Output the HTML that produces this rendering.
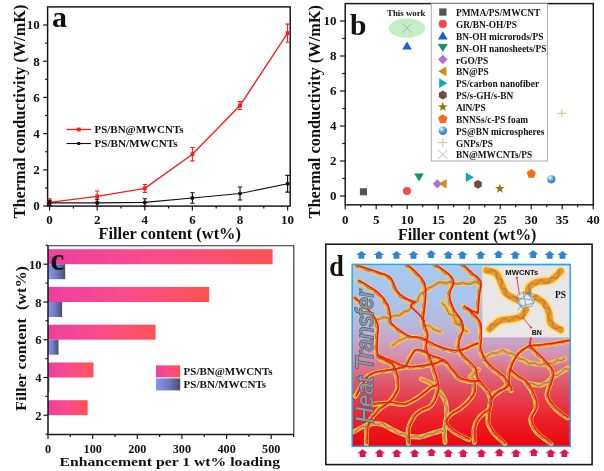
<!DOCTYPE html>
<html lang="en"><head><meta charset="utf-8"><title>Figure</title>
<style>
html,body{margin:0;padding:0;background:#fff;}
svg{display:block;}
text{font-family:'Liberation Serif', 'DejaVu Serif', serif;font-weight:bold;fill:#111;}
.sans{font-family:'Liberation Sans', 'DejaVu Sans', sans-serif;}
.ax{stroke:#1a1a1a;stroke-width:1.5;fill:none;}
.tk{stroke:#1a1a1a;stroke-width:1.2;fill:none;}
</style></head><body>
<svg width="604" height="471" viewBox="0 0 604 471">
<defs>
<linearGradient id="gp" x1="0" y1="0" x2="1" y2="0"><stop offset="0" stop-color="#ee3fa0"/><stop offset="0.5" stop-color="#fb4c8a"/><stop offset="1" stop-color="#ff5252"/></linearGradient>
<linearGradient id="gb" x1="0" y1="0" x2="1" y2="0"><stop offset="0" stop-color="#8696f0"/><stop offset="0.5" stop-color="#6f7cc4"/><stop offset="1" stop-color="#474e6a"/></linearGradient>
<linearGradient id="gd" x1="0" y1="0" x2="0" y2="1"><stop offset="0" stop-color="#a8c9f0"/><stop offset="0.2" stop-color="#aac4ec"/><stop offset="0.33" stop-color="#b6b8dc"/><stop offset="0.41" stop-color="#c6a6ca"/><stop offset="0.5" stop-color="#d590ae"/><stop offset="0.58" stop-color="#da7088"/><stop offset="0.66" stop-color="#e05468"/><stop offset="0.745" stop-color="#e63c4c"/><stop offset="0.83" stop-color="#ea2630"/><stop offset="0.91" stop-color="#ec1620"/><stop offset="1" stop-color="#ee040c"/></linearGradient>
<radialGradient id="gs" cx="0.35" cy="0.3" r="0.7"><stop offset="0" stop-color="#ffffff"/><stop offset="0.3" stop-color="#9cc8f2"/><stop offset="0.6" stop-color="#4e94dc"/><stop offset="1" stop-color="#3578c8"/></radialGradient>
</defs>
<rect width="604" height="471" fill="#fff"/>

<g id="panel-a">
<rect class="ax" x="47.6" y="6.9" width="242.6" height="199.2"/>
<line class="tk" x1="43.1" x2="47.6" y1="206.0" y2="206.0"/>
<line class="tk" x1="49.6" x2="49.6" y1="206.1" y2="210.6"/>
<line class="tk" x1="45.1" x2="47.6" y1="187.9" y2="187.9"/>
<line class="tk" x1="73.4" x2="73.4" y1="206.1" y2="208.6"/>
<line class="tk" x1="43.1" x2="47.6" y1="169.8" y2="169.8"/>
<line class="tk" x1="97.2" x2="97.2" y1="206.1" y2="210.6"/>
<line class="tk" x1="45.1" x2="47.6" y1="151.7" y2="151.7"/>
<line class="tk" x1="121.0" x2="121.0" y1="206.1" y2="208.6"/>
<line class="tk" x1="43.1" x2="47.6" y1="133.6" y2="133.6"/>
<line class="tk" x1="144.8" x2="144.8" y1="206.1" y2="210.6"/>
<line class="tk" x1="45.1" x2="47.6" y1="115.5" y2="115.5"/>
<line class="tk" x1="168.6" x2="168.6" y1="206.1" y2="208.6"/>
<line class="tk" x1="43.1" x2="47.6" y1="97.4" y2="97.4"/>
<line class="tk" x1="192.4" x2="192.4" y1="206.1" y2="210.6"/>
<line class="tk" x1="45.1" x2="47.6" y1="79.3" y2="79.3"/>
<line class="tk" x1="216.2" x2="216.2" y1="206.1" y2="208.6"/>
<line class="tk" x1="43.1" x2="47.6" y1="61.2" y2="61.2"/>
<line class="tk" x1="240.0" x2="240.0" y1="206.1" y2="210.6"/>
<line class="tk" x1="45.1" x2="47.6" y1="43.1" y2="43.1"/>
<line class="tk" x1="263.8" x2="263.8" y1="206.1" y2="208.6"/>
<line class="tk" x1="43.1" x2="47.6" y1="25.0" y2="25.0"/>
<line class="tk" x1="287.6" x2="287.6" y1="206.1" y2="210.6"/>
<text x="39.8" y="210.3" font-size="13" text-anchor="end">0</text>
<text x="49.6" y="224.4" font-size="13" text-anchor="middle">0</text>
<text x="39.8" y="174.1" font-size="13" text-anchor="end">2</text>
<text x="97.2" y="224.4" font-size="13" text-anchor="middle">2</text>
<text x="39.8" y="137.9" font-size="13" text-anchor="end">4</text>
<text x="144.8" y="224.4" font-size="13" text-anchor="middle">4</text>
<text x="39.8" y="101.7" font-size="13" text-anchor="end">6</text>
<text x="192.4" y="224.4" font-size="13" text-anchor="middle">6</text>
<text x="39.8" y="65.5" font-size="13" text-anchor="end">8</text>
<text x="240.0" y="224.4" font-size="13" text-anchor="middle">8</text>
<text x="39.8" y="29.3" font-size="13" text-anchor="end">10</text>
<text x="287.6" y="224.4" font-size="13" text-anchor="middle">10</text>
<text transform="translate(24.9,218.5) rotate(-90)" font-size="16.4" textLength="214" lengthAdjust="spacingAndGlyphs">Thermal conductivity (W/mK)</text>
<text x="98.5" y="239.3" font-size="16.4" textLength="142.4" lengthAdjust="spacingAndGlyphs">Filler content (wt%)</text>
<text x="52" y="27" font-size="30">a</text>
<polyline points="49.6,202.4 97.2,196.4 144.8,188.4 192.4,154.2 240.0,105.5 287.6,33.1" fill="none" stroke="#ff1a1a" stroke-width="1.35"/>
<path d="M49.6 198.8V206.0M47.4 198.8h4.4M47.4 206.0h4.4" stroke="#ff1a1a" stroke-width="1.1" fill="none"/>
<rect x="47.7" y="200.5" width="3.8" height="3.8" fill="#ff1a1a"/>
<path d="M97.2 191.0V201.8M95.0 191.0h4.4M95.0 201.8h4.4" stroke="#ff1a1a" stroke-width="1.1" fill="none"/>
<rect x="95.3" y="194.5" width="3.8" height="3.8" fill="#ff1a1a"/>
<path d="M144.8 184.5V192.4M142.6 184.5h4.4M142.6 192.4h4.4" stroke="#ff1a1a" stroke-width="1.1" fill="none"/>
<rect x="142.9" y="186.5" width="3.8" height="3.8" fill="#ff1a1a"/>
<path d="M192.4 147.5V160.9M190.2 147.5h4.4M190.2 160.9h4.4" stroke="#ff1a1a" stroke-width="1.1" fill="none"/>
<rect x="190.5" y="152.3" width="3.8" height="3.8" fill="#ff1a1a"/>
<path d="M240.0 101.6V109.5M237.8 101.6h4.4M237.8 109.5h4.4" stroke="#ff1a1a" stroke-width="1.1" fill="none"/>
<rect x="238.1" y="103.6" width="3.8" height="3.8" fill="#ff1a1a"/>
<path d="M287.6 24.1V42.2M285.4 24.1h4.4M285.4 42.2h4.4" stroke="#ff1a1a" stroke-width="1.1" fill="none"/>
<rect x="285.7" y="31.2" width="3.8" height="3.8" fill="#ff1a1a"/>
<polyline points="49.6,202.9 97.2,202.9 144.8,202.4 192.4,198.0 240.0,193.5 287.6,183.7" fill="none" stroke="#111" stroke-width="1.1"/>
<path d="M49.6 200.2V205.6M47.4 200.2h4.4M47.4 205.6h4.4" stroke="#111" stroke-width="1.1" fill="none"/>
<circle cx="49.6" cy="202.9" r="2" fill="#111"/>
<path d="M97.2 199.3V206.5M95.0 199.3h4.4M95.0 206.5h4.4" stroke="#111" stroke-width="1.1" fill="none"/>
<circle cx="97.2" cy="202.9" r="2" fill="#111"/>
<path d="M144.8 198.8V206.0M142.6 198.8h4.4M142.6 206.0h4.4" stroke="#111" stroke-width="1.1" fill="none"/>
<circle cx="144.8" cy="202.4" r="2" fill="#111"/>
<path d="M192.4 192.8V203.3M190.2 192.8h4.4M190.2 203.3h4.4" stroke="#111" stroke-width="1.1" fill="none"/>
<circle cx="192.4" cy="198.0" r="2" fill="#111"/>
<path d="M240.0 187.0V200.0M237.8 187.0h4.4M237.8 200.0h4.4" stroke="#111" stroke-width="1.1" fill="none"/>
<circle cx="240.0" cy="193.5" r="2" fill="#111"/>
<path d="M287.6 175.4V192.1M285.4 175.4h4.4M285.4 192.1h4.4" stroke="#111" stroke-width="1.1" fill="none"/>
<circle cx="287.6" cy="183.7" r="2" fill="#111"/>
<line x1="66.5" x2="91" y1="129.5" y2="129.5" stroke="#ff1a1a" stroke-width="1.35"/><rect x="76.9" y="127.6" width="3.8" height="3.8" fill="#ff1a1a"/>
<line x1="66.5" x2="91" y1="143.5" y2="143.5" stroke="#111" stroke-width="1.1"/><circle cx="78.8" cy="143.5" r="1.8" fill="#111"/>
<text x="94.5" y="133.4" font-size="11.3" textLength="89" lengthAdjust="spacingAndGlyphs">PS/BN@MWCNTs</text>
<text x="94.5" y="146.9" font-size="11.3" textLength="83" lengthAdjust="spacingAndGlyphs">PS/BN/MWCNTs</text>
</g>
<g id="panel-b">
<rect class="ax" x="345.2" y="3.6" width="248.09999999999997" height="201.20000000000002"/>
<line class="tk" x1="339.9" x2="345.2" y1="196.0" y2="196.0"/>
<line class="tk" x1="342.2" x2="345.2" y1="178.5" y2="178.5"/>
<line class="tk" x1="339.9" x2="345.2" y1="161.0" y2="161.0"/>
<line class="tk" x1="342.2" x2="345.2" y1="143.5" y2="143.5"/>
<line class="tk" x1="339.9" x2="345.2" y1="126.0" y2="126.0"/>
<line class="tk" x1="342.2" x2="345.2" y1="108.5" y2="108.5"/>
<line class="tk" x1="339.9" x2="345.2" y1="91.0" y2="91.0"/>
<line class="tk" x1="342.2" x2="345.2" y1="73.5" y2="73.5"/>
<line class="tk" x1="339.9" x2="345.2" y1="56.0" y2="56.0"/>
<line class="tk" x1="342.2" x2="345.2" y1="38.5" y2="38.5"/>
<line class="tk" x1="339.9" x2="345.2" y1="21.0" y2="21.0"/>
<line class="tk" x1="345.2" x2="345.2" y1="204.8" y2="209.3"/>
<line class="tk" x1="376.2" x2="376.2" y1="204.8" y2="209.3"/>
<line class="tk" x1="407.2" x2="407.2" y1="204.8" y2="209.3"/>
<line class="tk" x1="438.2" x2="438.2" y1="204.8" y2="209.3"/>
<line class="tk" x1="469.2" x2="469.2" y1="204.8" y2="209.3"/>
<line class="tk" x1="500.2" x2="500.2" y1="204.8" y2="209.3"/>
<line class="tk" x1="531.2" x2="531.2" y1="204.8" y2="209.3"/>
<line class="tk" x1="562.2" x2="562.2" y1="204.8" y2="209.3"/>
<line class="tk" x1="593.2" x2="593.2" y1="204.8" y2="209.3"/>
<line class="tk" x1="360.7" x2="360.7" y1="204.8" y2="207.3"/>
<line class="tk" x1="391.7" x2="391.7" y1="204.8" y2="207.3"/>
<line class="tk" x1="422.7" x2="422.7" y1="204.8" y2="207.3"/>
<line class="tk" x1="453.7" x2="453.7" y1="204.8" y2="207.3"/>
<line class="tk" x1="484.7" x2="484.7" y1="204.8" y2="207.3"/>
<line class="tk" x1="515.7" x2="515.7" y1="204.8" y2="207.3"/>
<line class="tk" x1="546.7" x2="546.7" y1="204.8" y2="207.3"/>
<line class="tk" x1="577.7" x2="577.7" y1="204.8" y2="207.3"/>
<text x="336.6" y="200.2" font-size="13" text-anchor="end">0</text>
<text x="336.6" y="165.2" font-size="13" text-anchor="end">2</text>
<text x="336.6" y="130.2" font-size="13" text-anchor="end">4</text>
<text x="336.6" y="95.2" font-size="13" text-anchor="end">6</text>
<text x="336.6" y="60.2" font-size="13" text-anchor="end">8</text>
<text x="336.6" y="25.2" font-size="13" text-anchor="end">10</text>
<text x="345.2" y="224.2" font-size="13" text-anchor="middle">0</text>
<text x="376.2" y="224.2" font-size="13" text-anchor="middle">5</text>
<text x="407.2" y="224.2" font-size="13" text-anchor="middle">10</text>
<text x="438.2" y="224.2" font-size="13" text-anchor="middle">15</text>
<text x="469.2" y="224.2" font-size="13" text-anchor="middle">20</text>
<text x="500.2" y="224.2" font-size="13" text-anchor="middle">25</text>
<text x="531.2" y="224.2" font-size="13" text-anchor="middle">30</text>
<text x="562.2" y="224.2" font-size="13" text-anchor="middle">35</text>
<text x="593.2" y="224.2" font-size="13" text-anchor="middle">40</text>
<text transform="translate(319.6,218.5) rotate(-90)" font-size="16.4" textLength="213.5" lengthAdjust="spacingAndGlyphs">Thermal conductivity (W/mK)</text>
<text x="398" y="240.3" font-size="16" textLength="138.4" lengthAdjust="spacingAndGlyphs">Filler content (wt%)</text>
<text x="350" y="35.4" font-size="29.5">b</text>
<ellipse cx="407" cy="28.2" rx="18.3" ry="9.6" fill="#c4eec6"/>
<text x="406.3" y="15.8" font-size="8.8" text-anchor="middle">This work</text>
<rect x="359.9" y="188.2" width="7.1" height="7.1" fill="#555"/>
<circle cx="407.0" cy="191.0" r="4.0" fill="#f8484e"/>
<path d="M407.0 41.6L411.8 49.6H402.2Z" fill="#1560e0"/>
<path d="M419.0 181.4L423.8 173.4H414.2Z" fill="#0a9a62"/>
<path d="M437.3 179.2L441.9 183.8L437.3 188.4L432.7 183.8Z" fill="#b46ee0"/>
<path d="M438.6 183.8L446.6 179.0V188.6Z" fill="#d88a10"/>
<path d="M473.9 177.3L465.9 172.5V182.1Z" fill="#12a4cc"/>
<polygon points="481.8,186.5 478.0,188.7 474.2,186.5 474.2,182.1 478.0,179.9 481.8,182.1" fill="#7a4848"/>
<polygon points="499.8,183.7 501.0,187.1 504.6,187.1 501.7,189.3 502.8,192.8 499.8,190.7 496.8,192.8 497.9,189.3 495.0,187.1 498.6,187.1" fill="#8a7a0a"/>
<polygon points="531.3,169.0 535.9,172.3 534.1,177.7 528.5,177.7 526.7,172.3" fill="#ff6a10"/>
<circle cx="551.3" cy="179.3" r="4.1" fill="url(#gs)"/>
<path d="M557.5 113.3h8.6M561.8 109.0v8.6" stroke="#9ccc50" stroke-width="0.8" fill="none"/>
<path d="M402.5 23.7l9.0 9.0M402.5 32.7l9.0 -9.0" stroke="#a8a8a8" stroke-width="0.8" fill="none"/>
<rect x="431.2" y="3.6" width="116.3" height="157.4" fill="#fff" stroke="#8a8a8a" stroke-width="0.7"/>
<rect x="439.2" y="8.4" width="7.3" height="7.3" fill="#555"/>
<text x="456" y="16.0" font-size="9.4">PMMA/PS/MWCNT</text>
<circle cx="442.8" cy="23.9" r="4.1" fill="#f8484e"/>
<text x="456" y="27.9" font-size="9.4">GR/BN-OH/PS</text>
<path d="M442.8 31.2L447.7 39.4H437.9Z" fill="#1560e0"/>
<text x="456" y="39.7" font-size="9.4">BN-OH microrods/PS</text>
<path d="M442.8 52.1L447.7 44.0H437.9Z" fill="#0a9a62"/>
<text x="456" y="51.6" font-size="9.4">BN-OH nanosheets/PS</text>
<path d="M442.8 54.8L447.5 59.5L442.8 64.2L438.1 59.5Z" fill="#b46ee0"/>
<text x="456" y="63.5" font-size="9.4">rGO/PS</text>
<path d="M438.3 71.3L446.4 66.4V76.3Z" fill="#d88a10"/>
<text x="456" y="75.3" font-size="9.4">BN@PS</text>
<path d="M447.3 83.2L439.2 78.3V88.1Z" fill="#12a4cc"/>
<text x="456" y="87.2" font-size="9.4">PS/carbon nanofiber</text>
<polygon points="446.7,97.3 442.8,99.6 438.9,97.3 438.9,92.8 442.8,90.6 446.7,92.8" fill="#7a4848"/>
<text x="456" y="99.1" font-size="9.4">PS/s-GH/s-BN</text>
<polygon points="442.8,101.8 444.0,105.3 447.7,105.4 444.7,107.6 445.8,111.1 442.8,109.0 439.8,111.1 440.9,107.6 437.9,105.4 441.6,105.3" fill="#8a7a0a"/>
<text x="456" y="111.0" font-size="9.4">AlN/PS</text>
<polygon points="442.8,114.2 447.5,117.6 445.7,123.1 439.9,123.1 438.1,117.6" fill="#ff6a10"/>
<text x="456" y="122.8" font-size="9.4">BNNSs/c-PS foam</text>
<circle cx="442.8" cy="130.7" r="4.2" fill="url(#gs)"/>
<text x="456" y="134.7" font-size="9.4">PS@BN microspheres</text>
<path d="M438.4 142.6h8.8M442.8 138.2v8.8" stroke="#9ccc50" stroke-width="0.8" fill="none"/>
<text x="456" y="146.6" font-size="9.4">GNPs/PS</text>
<path d="M438.2 149.8l9.2 9.2M438.2 159.0l9.2 -9.2" stroke="#a8a8a8" stroke-width="0.8" fill="none"/>
<text x="456" y="158.4" font-size="9.4">BN@MWCNTs/PS</text>
</g>
<g id="panel-c">
<rect x="48.0" y="249.2" width="224.6" height="15" fill="url(#gp)"/>
<rect x="48.0" y="264.2" width="17.2" height="15" fill="url(#gb)"/>
<rect x="48.0" y="287.0" width="161.2" height="15" fill="url(#gp)"/>
<rect x="48.0" y="302.0" width="14.1" height="15" fill="url(#gb)"/>
<rect x="48.0" y="324.7" width="107.6" height="15" fill="url(#gp)"/>
<rect x="48.0" y="339.7" width="10.5" height="15" fill="url(#gb)"/>
<rect x="48.0" y="362.5" width="45.5" height="15" fill="url(#gp)"/>
<rect x="48.0" y="377.5" width="1.3" height="15" fill="url(#gb)"/>
<rect x="48.0" y="400.2" width="39.7" height="15" fill="url(#gp)"/>
<path d="M48.0 245.7H293.8V434.4" stroke="#2a2a2a" stroke-width="1.1" fill="none"/>
<path class="ax" d="M48.0 246.0V434.4H294.0"/>
<line class="tk" x1="45.5" x2="48.0" y1="434.1" y2="434.1"/>
<line class="tk" x1="43.5" x2="48.0" y1="415.2" y2="415.2"/>
<line class="tk" x1="45.5" x2="48.0" y1="396.4" y2="396.4"/>
<line class="tk" x1="43.5" x2="48.0" y1="377.5" y2="377.5"/>
<line class="tk" x1="45.5" x2="48.0" y1="358.6" y2="358.6"/>
<line class="tk" x1="43.5" x2="48.0" y1="339.7" y2="339.7"/>
<line class="tk" x1="45.5" x2="48.0" y1="320.8" y2="320.8"/>
<line class="tk" x1="43.5" x2="48.0" y1="302.0" y2="302.0"/>
<line class="tk" x1="45.5" x2="48.0" y1="283.1" y2="283.1"/>
<line class="tk" x1="43.5" x2="48.0" y1="264.2" y2="264.2"/>
<line class="tk" x1="45.5" x2="48.0" y1="245.3" y2="245.3"/>
<line class="tk" x1="48.0" x2="48.0" y1="434.4" y2="438.9"/>
<line class="tk" x1="70.3" x2="70.3" y1="434.4" y2="436.9"/>
<line class="tk" x1="92.7" x2="92.7" y1="434.4" y2="438.9"/>
<line class="tk" x1="115.0" x2="115.0" y1="434.4" y2="436.9"/>
<line class="tk" x1="137.3" x2="137.3" y1="434.4" y2="438.9"/>
<line class="tk" x1="159.6" x2="159.6" y1="434.4" y2="436.9"/>
<line class="tk" x1="181.9" x2="181.9" y1="434.4" y2="438.9"/>
<line class="tk" x1="204.3" x2="204.3" y1="434.4" y2="436.9"/>
<line class="tk" x1="226.6" x2="226.6" y1="434.4" y2="438.9"/>
<line class="tk" x1="248.9" x2="248.9" y1="434.4" y2="436.9"/>
<line class="tk" x1="271.2" x2="271.2" y1="434.4" y2="438.9"/>
<line class="tk" x1="293.6" x2="293.6" y1="434.4" y2="436.9"/>
<text x="41.5" y="419.9" font-size="12.6" text-anchor="end">2</text>
<text x="41.5" y="382.2" font-size="12.6" text-anchor="end">4</text>
<text x="41.5" y="344.4" font-size="12.6" text-anchor="end">6</text>
<text x="41.5" y="306.7" font-size="12.6" text-anchor="end">8</text>
<text x="41.5" y="268.9" font-size="12.6" text-anchor="end">10</text>
<text x="48.0" y="452.8" font-size="12.2" text-anchor="middle" textLength="6.1" lengthAdjust="spacingAndGlyphs">0</text>
<text x="92.7" y="452.8" font-size="12.2" text-anchor="middle" textLength="18.3" lengthAdjust="spacingAndGlyphs">100</text>
<text x="137.3" y="452.8" font-size="12.2" text-anchor="middle" textLength="18.3" lengthAdjust="spacingAndGlyphs">200</text>
<text x="181.9" y="452.8" font-size="12.2" text-anchor="middle" textLength="18.3" lengthAdjust="spacingAndGlyphs">300</text>
<text x="226.6" y="452.8" font-size="12.2" text-anchor="middle" textLength="18.3" lengthAdjust="spacingAndGlyphs">400</text>
<text x="271.2" y="452.8" font-size="12.2" text-anchor="middle" textLength="18.3" lengthAdjust="spacingAndGlyphs">500</text>
<text transform="translate(25.9,411) rotate(-90)" font-size="15" textLength="145" lengthAdjust="spacingAndGlyphs">Filler content&#160;&#160;(wt%)</text>
<text x="59.5" y="466.2" font-size="11.8" textLength="220.5" lengthAdjust="spacingAndGlyphs">Enhancement per 1 wt% loading</text>
<text x="50.5" y="269.5" font-size="31">c</text>
<rect x="156" y="365.4" width="24.2" height="12" fill="url(#gp)"/>
<rect x="156" y="378.4" width="24.2" height="12" fill="url(#gb)"/>
<text x="183.6" y="375.1" font-size="11.4" textLength="89" lengthAdjust="spacingAndGlyphs">PS/BN@MWCNTs</text>
<text x="183.6" y="387.7" font-size="11.4" textLength="82.5" lengthAdjust="spacingAndGlyphs">PS/BN/MWCNTs</text>
</g>
<g id="panel-d">
<rect x="325.8" y="244.2" width="266.3" height="220.4" fill="#fff" stroke="#1a1a1a" stroke-width="1.6"/>
<text x="329.3" y="275.5" font-size="29" textLength="14.6" lengthAdjust="spacingAndGlyphs">d</text>
<rect x="352.2" y="264.4" width="218" height="182" fill="url(#gd)"/>
<clipPath id="cd"><rect x="352.2" y="264.4" width="218" height="182"/></clipPath>
<g clip-path="url(#cd)">
<filter id="bl" x="-5%" y="-5%" width="110%" height="110%"><feGaussianBlur stdDeviation="0.45"/></filter>
<g id="network" fill="none" stroke-linecap="round" stroke-linejoin="round" filter="url(#bl)">
<path d="M356.1 266.1C359.6 267.2 371.6 270.9 377.2 272.9C382.8 274.9 386.2 275.1 389.4 278.3C392.6 281.5 393.7 288.5 396.2 291.9C398.7 295.3 401.4 296.9 404.3 298.7C407.2 300.5 412.3 302.1 413.9 302.8" stroke="#ffd24c" stroke-width="4.8"/>
<path d="M358.2 281.0C361.4 283.1 372.4 289.2 377.2 293.3C381.9 297.4 384.7 301.7 386.7 305.5C388.7 309.3 388.8 313.4 389.4 316.3C389.9 319.2 388.6 320.7 390.0 323.0C391.4 325.3 394.5 327.9 397.6 330.2C400.7 332.5 404.7 335.5 408.4 336.9C412.1 338.3 415.8 337.1 420.0 338.5C424.2 339.9 429.1 343.2 433.6 345.1C438.1 347.0 443.1 348.9 447.2 349.9C451.3 350.9 454.6 351.5 458.0 351.2C461.4 350.9 464.4 349.1 467.6 347.8C470.8 346.6 475.4 344.4 477.0 343.7" stroke="#ffd24c" stroke-width="4.8"/>
<path d="M354.0 298.0C356.7 300.6 366.6 308.9 370.4 313.6C374.2 318.3 376.0 321.9 377.0 326.0C378.0 330.1 376.5 333.0 376.5 338.0C376.5 343.0 374.8 351.6 377.2 356.0C379.6 360.4 387.6 360.9 390.8 364.1C394.0 367.3 395.1 371.4 396.2 375.0C397.3 378.6 397.6 383.1 397.6 386.0C397.6 388.9 397.6 389.6 396.2 392.2C394.8 394.8 392.6 398.5 389.4 401.7C386.2 404.9 380.8 407.3 377.2 411.2C373.6 415.1 369.5 419.4 367.7 424.8C365.9 430.2 366.5 440.6 366.3 443.8" stroke="#ffd24c" stroke-width="4.8"/>
<path d="M405.7 265.0C407.3 266.3 412.2 269.8 415.2 272.9C418.1 276.0 421.8 279.8 423.4 283.7C425.0 287.6 424.7 291.7 424.7 296.0C424.7 300.3 423.8 305.3 423.4 309.6C423.0 313.9 421.9 317.7 422.5 322.0C423.1 326.3 426.3 331.1 426.8 335.6C427.3 340.1 424.5 344.0 425.4 349.2C426.3 354.4 430.1 360.7 432.2 366.8C434.2 372.9 437.0 381.2 437.7 385.9C438.4 390.6 437.4 391.6 436.3 394.9C435.2 398.2 433.6 403.0 430.9 405.7C428.2 408.4 422.8 409.4 420.0 411.2C417.2 413.0 415.8 413.7 413.9 416.6C412.0 419.5 409.3 424.3 408.4 428.8C407.5 433.3 408.4 441.3 408.4 443.8" stroke="#ffd24c" stroke-width="4.8"/>
<path d="M377.2 319.0C380.1 318.6 389.8 317.7 394.8 316.3C399.8 314.9 403.6 313.1 407.0 310.9C410.4 308.6 412.7 305.8 415.2 302.8C417.7 299.8 419.5 295.5 422.0 293.0C424.5 290.5 427.7 289.5 430.0 288.0C432.3 286.5 433.6 284.9 436.0 284.0C438.4 283.1 440.4 282.5 444.5 282.4C448.6 282.3 454.9 283.5 460.8 283.5C466.7 283.5 476.6 282.6 479.8 282.4" stroke="#ffd24c" stroke-width="4.8"/>
<path d="M433.6 264.7C435.9 266.3 444.0 271.2 447.2 274.2C450.4 277.1 452.4 278.8 452.6 282.4C452.8 286.0 448.5 291.5 448.5 296.0C448.5 300.5 450.6 305.3 452.6 309.6C454.7 313.9 459.2 318.4 460.8 321.8C462.4 325.2 462.6 326.8 462.1 330.2C461.6 333.6 458.6 338.9 458.0 342.4C457.4 345.9 457.6 348.5 458.7 351.2C459.8 353.9 462.2 355.9 464.8 358.7C467.4 361.5 472.3 364.8 474.3 368.2C476.3 371.6 475.6 376.1 477.0 379.0C478.4 381.9 480.4 383.2 482.5 385.9C484.6 388.5 488.2 391.1 489.3 394.9C490.4 398.7 490.9 404.9 489.3 408.5C487.7 412.1 482.3 413.4 479.8 416.6C477.3 419.8 475.2 423.2 474.3 427.5C473.4 431.8 474.3 439.9 474.3 442.4" stroke="#ffd24c" stroke-width="4.8"/>
<path d="M460.8 264.0C462.6 265.7 468.4 271.1 471.6 274.2C474.8 277.3 478.7 278.8 479.8 282.4C480.9 286.0 478.9 290.8 478.4 296.0C477.9 301.2 477.2 310.7 477.0 313.6" stroke="#ffd24c" stroke-width="4.8"/>
<path d="M463.5 306.8C465.3 308.4 471.6 313.4 474.3 316.3C477.0 319.2 478.8 320.8 479.8 324.5C480.8 328.2 480.5 334.2 480.5 338.3C480.5 342.4 479.0 345.4 479.8 349.2C480.6 353.0 482.9 358.0 485.2 361.4C487.5 364.8 490.6 367.1 493.4 369.6C496.2 372.1 499.6 373.6 502.2 376.3C504.8 379.0 507.5 383.6 509.0 386.0C510.5 388.4 510.7 390.0 511.0 390.8" stroke="#ffd24c" stroke-width="4.8"/>
<path d="M442.4 302.8C443.7 304.6 446.9 309.7 450.0 313.6C453.1 317.5 459.0 323.9 460.8 326.0" stroke="#ffd24c" stroke-width="4.8"/>
<path d="M355.4 396.2C356.3 394.6 358.8 390.0 360.9 386.7C362.9 383.4 365.0 378.7 367.7 376.3C370.4 373.9 373.3 373.3 377.2 372.3C381.1 371.3 386.3 371.1 390.8 370.2C395.3 369.3 401.1 368.9 404.3 366.8C407.5 364.7 408.0 360.0 409.8 357.3C411.6 354.6 412.9 351.4 415.2 350.5C417.5 349.6 420.9 351.0 423.4 351.9C425.9 352.8 426.7 354.5 430.0 356.0C433.3 357.5 439.6 358.4 443.1 360.7C446.7 363.0 448.8 366.8 451.3 369.6C453.8 372.4 455.3 375.8 458.0 377.7C460.7 379.6 464.0 380.4 467.6 381.1C471.2 381.8 477.8 381.7 479.8 381.8" stroke="#ffd24c" stroke-width="4.8"/>
<path d="M377.2 356.0C379.5 356.9 386.3 359.6 390.8 361.4C395.3 363.2 399.8 365.9 404.3 366.8C408.8 367.7 413.0 367.2 417.9 366.8C422.8 366.4 429.4 365.1 433.6 364.1C437.8 363.1 441.5 361.3 443.1 360.7" stroke="#ffd24c" stroke-width="4.8"/>
<path d="M392.1 345.1C394.1 344.0 401.5 339.7 404.3 338.3C407.1 336.9 408.2 336.8 409.0 336.5" stroke="#ffd24c" stroke-width="4.8"/>
<path d="M422.7 323.4C425.6 324.9 437.4 330.7 440.4 332.2" stroke="#ffd24c" stroke-width="4.8"/>
<path d="M454.0 322.0C456.3 323.6 465.3 329.9 467.6 331.5" stroke="#ffd24c" stroke-width="4.8"/>
<path d="M483.9 357.3C485.6 356.7 490.5 354.5 494.0 353.5C497.5 352.5 501.2 350.7 504.9 351.2C508.6 351.7 511.9 354.6 516.0 356.5C520.1 358.4 524.4 361.5 529.3 362.8C534.2 364.1 539.7 364.8 545.6 364.1C551.5 363.4 561.5 359.6 564.7 358.7" stroke="#ffd24c" stroke-width="4.8"/>
<path d="M421.4 379.0C423.4 379.9 431.6 383.6 433.6 384.5" stroke="#ffd24c" stroke-width="4.8"/>
<path d="M470.3 376.3C471.6 375.2 477.0 370.7 478.4 369.6" stroke="#ffd24c" stroke-width="4.8"/>
<path d="M528.6 346.5C531.9 346.1 541.6 345.3 548.3 344.4C555.0 343.5 565.3 341.6 568.7 341.0" stroke="#ffd24c" stroke-width="4.8"/>
<path d="M528.6 346.5C527.1 347.4 522.4 349.4 519.8 351.9C517.2 354.4 514.8 358.0 513.0 361.4C511.2 364.8 509.8 368.2 508.9 372.3C508.0 376.4 509.1 382.8 507.6 385.9C506.1 389.0 502.6 389.1 500.0 391.0C497.4 392.9 493.8 394.7 492.0 397.6C490.2 400.5 490.0 404.4 489.3 408.5C488.6 412.6 487.3 417.9 488.0 422.0C488.7 426.1 490.6 429.3 493.4 432.9C496.2 436.5 503.0 442.0 504.9 443.8" stroke="#ffd24c" stroke-width="4.8"/>
<path d="M528.6 346.5C529.9 347.6 533.3 350.6 536.1 353.3C538.9 356.0 542.9 359.6 545.6 362.8C548.3 366.0 551.5 369.1 552.4 372.3C553.3 375.5 551.9 377.8 551.0 381.8C550.1 385.8 546.3 391.8 547.0 396.2C547.7 400.6 551.7 404.9 555.1 408.5C558.5 412.1 565.4 416.4 567.4 418.0" stroke="#ffd24c" stroke-width="4.8"/>
<path d="M509.0 369.6C510.3 370.7 514.3 374.3 517.0 376.3C519.7 378.3 522.6 378.7 525.3 381.8C528.0 384.9 531.6 390.7 533.4 394.9C535.2 399.1 536.5 403.0 536.1 407.1C535.7 411.2 530.7 415.2 530.7 419.3C530.7 423.4 532.7 427.5 536.1 431.6C539.5 435.7 548.6 441.8 551.1 443.8" stroke="#ffd24c" stroke-width="4.8"/>
<path d="M526.0 383.0C528.7 383.3 537.3 386.1 542.0 385.0C546.7 383.9 549.7 379.3 554.0 376.5C558.3 373.7 565.7 369.4 568.0 368.0" stroke="#ffd24c" stroke-width="4.8"/>
<path d="M494.0 393.5C495.4 392.8 499.9 391.0 502.2 389.4C504.5 387.8 507.0 384.9 508.0 384.0" stroke="#ffd24c" stroke-width="4.8"/>
<path d="M373.1 404.4C376.1 404.2 385.6 403.0 390.8 403.0C396.0 403.0 399.8 405.3 404.3 404.4C408.8 403.5 413.6 400.3 417.9 397.6C422.2 394.9 426.8 390.1 430.0 388.0C433.2 385.9 435.8 385.5 437.0 385.0" stroke="#ffd24c" stroke-width="4.8"/>
<path d="M354.0 431.6C356.3 430.5 363.1 426.1 367.7 424.8C372.2 423.6 377.0 423.2 381.3 424.1C385.6 425.0 389.2 428.3 393.5 430.2C397.8 432.1 402.6 434.5 407.0 435.6C411.4 436.7 415.6 437.4 420.0 437.0C424.4 436.6 429.8 434.0 433.6 432.9C437.5 431.8 441.5 430.6 443.1 430.2" stroke="#ffd24c" stroke-width="4.8"/>
<path d="M440.4 392.2C441.3 394.0 444.8 398.9 445.8 403.0C446.8 407.1 446.7 412.1 446.5 416.6C446.3 421.1 444.7 425.9 444.5 430.2C444.3 434.5 445.0 440.4 445.1 442.4" stroke="#ffd24c" stroke-width="4.8"/>
<path d="M474.3 384.0C474.1 385.8 475.0 391.0 473.0 394.9C471.0 398.8 466.0 403.7 462.1 407.1C458.2 410.5 452.6 412.6 449.9 415.3C447.2 418.0 444.9 420.5 445.8 423.4C446.7 426.3 451.5 430.2 455.3 432.9C459.1 435.6 466.6 438.6 468.9 439.7" stroke="#ffd24c" stroke-width="4.8"/>
<path d="M356.1 266.1C359.6 267.2 371.6 270.9 377.2 272.9C382.8 274.9 386.2 275.1 389.4 278.3C392.6 281.5 393.7 288.5 396.2 291.9C398.7 295.3 401.4 296.9 404.3 298.7C407.2 300.5 412.3 302.1 413.9 302.8" stroke="#ffa028" stroke-width="3.1"/>
<path d="M358.2 281.0C361.4 283.1 372.4 289.2 377.2 293.3C381.9 297.4 384.7 301.7 386.7 305.5C388.7 309.3 388.8 313.4 389.4 316.3C389.9 319.2 388.6 320.7 390.0 323.0C391.4 325.3 394.5 327.9 397.6 330.2C400.7 332.5 404.7 335.5 408.4 336.9C412.1 338.3 415.8 337.1 420.0 338.5C424.2 339.9 429.1 343.2 433.6 345.1C438.1 347.0 443.1 348.9 447.2 349.9C451.3 350.9 454.6 351.5 458.0 351.2C461.4 350.9 464.4 349.1 467.6 347.8C470.8 346.6 475.4 344.4 477.0 343.7" stroke="#ffa028" stroke-width="3.1"/>
<path d="M354.0 298.0C356.7 300.6 366.6 308.9 370.4 313.6C374.2 318.3 376.0 321.9 377.0 326.0C378.0 330.1 376.5 333.0 376.5 338.0C376.5 343.0 374.8 351.6 377.2 356.0C379.6 360.4 387.6 360.9 390.8 364.1C394.0 367.3 395.1 371.4 396.2 375.0C397.3 378.6 397.6 383.1 397.6 386.0C397.6 388.9 397.6 389.6 396.2 392.2C394.8 394.8 392.6 398.5 389.4 401.7C386.2 404.9 380.8 407.3 377.2 411.2C373.6 415.1 369.5 419.4 367.7 424.8C365.9 430.2 366.5 440.6 366.3 443.8" stroke="#ffa028" stroke-width="3.1"/>
<path d="M405.7 265.0C407.3 266.3 412.2 269.8 415.2 272.9C418.1 276.0 421.8 279.8 423.4 283.7C425.0 287.6 424.7 291.7 424.7 296.0C424.7 300.3 423.8 305.3 423.4 309.6C423.0 313.9 421.9 317.7 422.5 322.0C423.1 326.3 426.3 331.1 426.8 335.6C427.3 340.1 424.5 344.0 425.4 349.2C426.3 354.4 430.1 360.7 432.2 366.8C434.2 372.9 437.0 381.2 437.7 385.9C438.4 390.6 437.4 391.6 436.3 394.9C435.2 398.2 433.6 403.0 430.9 405.7C428.2 408.4 422.8 409.4 420.0 411.2C417.2 413.0 415.8 413.7 413.9 416.6C412.0 419.5 409.3 424.3 408.4 428.8C407.5 433.3 408.4 441.3 408.4 443.8" stroke="#ffa028" stroke-width="3.1"/>
<path d="M377.2 319.0C380.1 318.6 389.8 317.7 394.8 316.3C399.8 314.9 403.6 313.1 407.0 310.9C410.4 308.6 412.7 305.8 415.2 302.8C417.7 299.8 419.5 295.5 422.0 293.0C424.5 290.5 427.7 289.5 430.0 288.0C432.3 286.5 433.6 284.9 436.0 284.0C438.4 283.1 440.4 282.5 444.5 282.4C448.6 282.3 454.9 283.5 460.8 283.5C466.7 283.5 476.6 282.6 479.8 282.4" stroke="#ffa028" stroke-width="3.1"/>
<path d="M433.6 264.7C435.9 266.3 444.0 271.2 447.2 274.2C450.4 277.1 452.4 278.8 452.6 282.4C452.8 286.0 448.5 291.5 448.5 296.0C448.5 300.5 450.6 305.3 452.6 309.6C454.7 313.9 459.2 318.4 460.8 321.8C462.4 325.2 462.6 326.8 462.1 330.2C461.6 333.6 458.6 338.9 458.0 342.4C457.4 345.9 457.6 348.5 458.7 351.2C459.8 353.9 462.2 355.9 464.8 358.7C467.4 361.5 472.3 364.8 474.3 368.2C476.3 371.6 475.6 376.1 477.0 379.0C478.4 381.9 480.4 383.2 482.5 385.9C484.6 388.5 488.2 391.1 489.3 394.9C490.4 398.7 490.9 404.9 489.3 408.5C487.7 412.1 482.3 413.4 479.8 416.6C477.3 419.8 475.2 423.2 474.3 427.5C473.4 431.8 474.3 439.9 474.3 442.4" stroke="#ffa028" stroke-width="3.1"/>
<path d="M460.8 264.0C462.6 265.7 468.4 271.1 471.6 274.2C474.8 277.3 478.7 278.8 479.8 282.4C480.9 286.0 478.9 290.8 478.4 296.0C477.9 301.2 477.2 310.7 477.0 313.6" stroke="#ffa028" stroke-width="3.1"/>
<path d="M463.5 306.8C465.3 308.4 471.6 313.4 474.3 316.3C477.0 319.2 478.8 320.8 479.8 324.5C480.8 328.2 480.5 334.2 480.5 338.3C480.5 342.4 479.0 345.4 479.8 349.2C480.6 353.0 482.9 358.0 485.2 361.4C487.5 364.8 490.6 367.1 493.4 369.6C496.2 372.1 499.6 373.6 502.2 376.3C504.8 379.0 507.5 383.6 509.0 386.0C510.5 388.4 510.7 390.0 511.0 390.8" stroke="#ffa028" stroke-width="3.1"/>
<path d="M442.4 302.8C443.7 304.6 446.9 309.7 450.0 313.6C453.1 317.5 459.0 323.9 460.8 326.0" stroke="#ffa028" stroke-width="3.1"/>
<path d="M355.4 396.2C356.3 394.6 358.8 390.0 360.9 386.7C362.9 383.4 365.0 378.7 367.7 376.3C370.4 373.9 373.3 373.3 377.2 372.3C381.1 371.3 386.3 371.1 390.8 370.2C395.3 369.3 401.1 368.9 404.3 366.8C407.5 364.7 408.0 360.0 409.8 357.3C411.6 354.6 412.9 351.4 415.2 350.5C417.5 349.6 420.9 351.0 423.4 351.9C425.9 352.8 426.7 354.5 430.0 356.0C433.3 357.5 439.6 358.4 443.1 360.7C446.7 363.0 448.8 366.8 451.3 369.6C453.8 372.4 455.3 375.8 458.0 377.7C460.7 379.6 464.0 380.4 467.6 381.1C471.2 381.8 477.8 381.7 479.8 381.8" stroke="#ffa028" stroke-width="3.1"/>
<path d="M377.2 356.0C379.5 356.9 386.3 359.6 390.8 361.4C395.3 363.2 399.8 365.9 404.3 366.8C408.8 367.7 413.0 367.2 417.9 366.8C422.8 366.4 429.4 365.1 433.6 364.1C437.8 363.1 441.5 361.3 443.1 360.7" stroke="#ffa028" stroke-width="3.1"/>
<path d="M392.1 345.1C394.1 344.0 401.5 339.7 404.3 338.3C407.1 336.9 408.2 336.8 409.0 336.5" stroke="#ffa028" stroke-width="3.1"/>
<path d="M422.7 323.4C425.6 324.9 437.4 330.7 440.4 332.2" stroke="#ffa028" stroke-width="3.1"/>
<path d="M454.0 322.0C456.3 323.6 465.3 329.9 467.6 331.5" stroke="#ffa028" stroke-width="3.1"/>
<path d="M483.9 357.3C485.6 356.7 490.5 354.5 494.0 353.5C497.5 352.5 501.2 350.7 504.9 351.2C508.6 351.7 511.9 354.6 516.0 356.5C520.1 358.4 524.4 361.5 529.3 362.8C534.2 364.1 539.7 364.8 545.6 364.1C551.5 363.4 561.5 359.6 564.7 358.7" stroke="#ffa028" stroke-width="3.1"/>
<path d="M421.4 379.0C423.4 379.9 431.6 383.6 433.6 384.5" stroke="#ffa028" stroke-width="3.1"/>
<path d="M470.3 376.3C471.6 375.2 477.0 370.7 478.4 369.6" stroke="#ffa028" stroke-width="3.1"/>
<path d="M528.6 346.5C531.9 346.1 541.6 345.3 548.3 344.4C555.0 343.5 565.3 341.6 568.7 341.0" stroke="#ffa028" stroke-width="3.1"/>
<path d="M528.6 346.5C527.1 347.4 522.4 349.4 519.8 351.9C517.2 354.4 514.8 358.0 513.0 361.4C511.2 364.8 509.8 368.2 508.9 372.3C508.0 376.4 509.1 382.8 507.6 385.9C506.1 389.0 502.6 389.1 500.0 391.0C497.4 392.9 493.8 394.7 492.0 397.6C490.2 400.5 490.0 404.4 489.3 408.5C488.6 412.6 487.3 417.9 488.0 422.0C488.7 426.1 490.6 429.3 493.4 432.9C496.2 436.5 503.0 442.0 504.9 443.8" stroke="#ffa028" stroke-width="3.1"/>
<path d="M528.6 346.5C529.9 347.6 533.3 350.6 536.1 353.3C538.9 356.0 542.9 359.6 545.6 362.8C548.3 366.0 551.5 369.1 552.4 372.3C553.3 375.5 551.9 377.8 551.0 381.8C550.1 385.8 546.3 391.8 547.0 396.2C547.7 400.6 551.7 404.9 555.1 408.5C558.5 412.1 565.4 416.4 567.4 418.0" stroke="#ffa028" stroke-width="3.1"/>
<path d="M509.0 369.6C510.3 370.7 514.3 374.3 517.0 376.3C519.7 378.3 522.6 378.7 525.3 381.8C528.0 384.9 531.6 390.7 533.4 394.9C535.2 399.1 536.5 403.0 536.1 407.1C535.7 411.2 530.7 415.2 530.7 419.3C530.7 423.4 532.7 427.5 536.1 431.6C539.5 435.7 548.6 441.8 551.1 443.8" stroke="#ffa028" stroke-width="3.1"/>
<path d="M526.0 383.0C528.7 383.3 537.3 386.1 542.0 385.0C546.7 383.9 549.7 379.3 554.0 376.5C558.3 373.7 565.7 369.4 568.0 368.0" stroke="#ffa028" stroke-width="3.1"/>
<path d="M494.0 393.5C495.4 392.8 499.9 391.0 502.2 389.4C504.5 387.8 507.0 384.9 508.0 384.0" stroke="#ffa028" stroke-width="3.1"/>
<path d="M373.1 404.4C376.1 404.2 385.6 403.0 390.8 403.0C396.0 403.0 399.8 405.3 404.3 404.4C408.8 403.5 413.6 400.3 417.9 397.6C422.2 394.9 426.8 390.1 430.0 388.0C433.2 385.9 435.8 385.5 437.0 385.0" stroke="#ffa028" stroke-width="3.1"/>
<path d="M354.0 431.6C356.3 430.5 363.1 426.1 367.7 424.8C372.2 423.6 377.0 423.2 381.3 424.1C385.6 425.0 389.2 428.3 393.5 430.2C397.8 432.1 402.6 434.5 407.0 435.6C411.4 436.7 415.6 437.4 420.0 437.0C424.4 436.6 429.8 434.0 433.6 432.9C437.5 431.8 441.5 430.6 443.1 430.2" stroke="#ffa028" stroke-width="3.1"/>
<path d="M440.4 392.2C441.3 394.0 444.8 398.9 445.8 403.0C446.8 407.1 446.7 412.1 446.5 416.6C446.3 421.1 444.7 425.9 444.5 430.2C444.3 434.5 445.0 440.4 445.1 442.4" stroke="#ffa028" stroke-width="3.1"/>
<path d="M474.3 384.0C474.1 385.8 475.0 391.0 473.0 394.9C471.0 398.8 466.0 403.7 462.1 407.1C458.2 410.5 452.6 412.6 449.9 415.3C447.2 418.0 444.9 420.5 445.8 423.4C446.7 426.3 451.5 430.2 455.3 432.9C459.1 435.6 466.6 438.6 468.9 439.7" stroke="#ffa028" stroke-width="3.1"/>
<path d="M356.0 266.4L357.2 267.1L359.2 266.6L361.4 266.8L363.8 267.3L365.9 269.2L368.0 271.2L370.9 270.7L373.5 270.7L375.4 272.2L376.9 273.7L379.8 273.8L382.3 274.1L384.5 274.2L386.2 275.6L387.2 278.0L389.3 278.4L391.2 279.9L392.8 282.1L392.9 285.1L393.0 288.0L395.2 289.9L396.9 291.5L398.5 293.8L399.5 296.5L401.9 297.7L404.1 299.0L407.2 299.2L410.0 300.2L411.7 303.3L413.7 303.3" stroke="#5b7a9e" stroke-width="0.8" opacity="0.9"/>
<path d="M355.7 267.5L357.0 267.7L359.3 266.4L361.6 266.3L363.8 267.3L365.3 271.0L368.3 270.4L370.9 270.5L373.6 270.2L375.7 271.1L376.9 273.9L379.4 275.0L382.3 274.1L384.7 273.7L385.8 276.5L386.9 278.5L388.7 279.1L391.4 279.8L392.7 282.1L393.5 284.8L392.6 288.1L395.1 289.9L396.7 291.6L399.1 293.3L399.0 297.1L401.2 298.7L404.7 298.1L407.4 298.9L409.5 301.4L411.9 302.9L413.3 304.4" stroke="#6d86a6" stroke-width="0.7" opacity="0.75"/>
<path d="M358.3 280.8L358.8 282.6L361.1 282.4L363.4 282.8L365.5 284.1L366.8 286.9L369.1 288.3L371.7 289.1L374.6 289.3L375.1 292.8L376.5 294.2L378.5 295.7L381.3 296.3L383.1 297.9L383.9 300.1L383.9 302.7L385.7 303.9L387.3 305.2L388.1 307.7L388.5 310.1L387.4 312.6L388.7 314.5L390.6 316.1L389.5 318.8L388.0 320.8L388.9 323.3L390.9 325.1L394.2 325.5L396.2 327.3L397.2 330.7L399.3 332.0L402.0 332.7L404.5 333.6L406.7 334.9L408.2 337.3L410.4 338.6L413.0 336.6L415.2 336.8L417.6 337.2L419.7 340.0L422.0 339.7L424.4 340.4L427.2 340.7L428.6 343.6L430.6 345.5L433.7 345.0L436.2 345.4L438.3 346.7L440.6 347.8L442.5 349.6L444.9 349.9L447.5 348.9L450.1 350.6L452.7 352.1L455.3 352.9L458.0 350.4L460.3 349.5L462.6 348.9L465.4 349.2L468.2 349.3L470.2 346.7L472.5 344.6L475.2 344.2L477.4 344.7" stroke="#5b7a9e" stroke-width="0.8" opacity="0.9"/>
<path d="M357.8 281.6L358.7 282.8L360.4 283.6L363.5 282.6L364.9 285.1L366.6 287.3L368.7 289.0L371.4 289.5L374.7 289.2L375.3 292.4L376.1 294.7L379.1 295.1L381.6 296.0L383.3 297.8L383.5 300.4L383.2 303.2L385.3 304.1L388.3 304.6L388.5 307.5L387.5 310.4L387.5 312.6L388.1 314.6L389.9 316.2L389.7 318.8L389.2 320.9L388.9 323.3L391.7 324.5L393.8 326.0L396.0 327.6L396.5 331.7L398.6 332.9L401.9 332.8L404.7 333.3L406.3 335.6L407.9 338.1L410.3 338.9L413.0 336.8L415.2 336.7L417.5 338.8L419.8 339.2L421.5 341.0L424.7 339.7L427.2 340.5L428.7 343.4L430.6 345.4L433.3 345.7L436.2 345.4L438.6 345.9L440.6 347.7L442.3 350.3L444.7 350.7L447.3 349.5L450.4 349.3L452.6 352.3L455.3 352.6L458.0 350.9L460.2 349.4L462.3 348.2L465.5 349.3L467.9 348.6L470.0 346.2L472.1 343.8L474.7 343.2L477.6 345.2" stroke="#6d86a6" stroke-width="0.7" opacity="0.75"/>
<path d="M353.8 298.3L354.9 299.1L357.0 299.5L358.7 300.9L360.3 302.8L360.7 306.2L362.8 307.9L366.2 308.1L368.5 309.4L370.0 311.3L369.8 314.2L371.5 316.4L373.4 318.1L375.3 319.7L376.1 321.8L375.4 324.4L376.0 326.3L377.6 328.3L377.6 330.6L376.7 332.7L375.5 335.1L375.5 338.0L377.6 340.1L377.5 342.4L376.6 344.8L374.8 347.2L375.5 349.7L377.4 352.0L377.0 354.1L376.0 356.5L377.6 358.4L380.5 358.8L383.1 358.8L384.8 361.1L386.9 362.5L389.0 363.3L391.2 363.6L393.4 365.3L393.6 368.3L393.3 371.1L394.6 373.1L397.0 374.7L398.4 376.9L397.8 379.5L396.2 382.1L397.0 384.1L398.6 386.0L398.9 389.3L395.2 391.8L394.1 393.3L394.4 396.0L394.0 398.6L392.3 400.7L388.8 401.2L387.0 401.9L386.3 404.4L385.0 406.5L382.6 406.9L380.2 407.6L378.2 408.8L377.8 411.8L376.9 414.0L375.0 415.5L371.5 415.6L370.6 418.0L370.2 420.7L370.0 423.3L367.4 424.7L365.6 426.7L365.5 429.4L367.3 432.4L367.8 435.2L366.4 437.8L365.2 440.3L365.3 442.3L367.9 443.9" stroke="#5b7a9e" stroke-width="0.8" opacity="0.9"/>
<path d="M353.0 299.1L354.4 299.6L356.0 300.6L359.3 300.2L360.8 302.2L361.1 305.8L362.8 307.9L365.7 308.7L368.3 309.6L368.9 312.3L369.1 314.7L372.2 315.8L374.2 317.5L375.3 319.7L375.9 321.9L375.5 324.4L375.4 326.5L377.8 328.3L379.0 330.6L376.7 332.8L374.7 335.0L376.8 338.0L377.6 340.1L376.4 342.3L375.3 344.7L374.7 347.2L376.4 349.7L377.8 351.9L376.6 354.2L376.3 356.3L377.2 358.8L381.2 357.8L383.3 358.5L385.0 360.5L387.0 362.3L388.3 364.6L391.3 363.4L393.1 365.6L394.3 368.0L394.1 370.8L394.6 373.1L396.8 374.8L397.9 377.0L396.5 379.7L395.9 382.1L396.8 384.2L398.1 386.0L398.2 389.2L395.6 392.0L394.3 393.4L393.6 395.4L393.9 398.5L391.1 399.7L388.6 401.0L386.8 401.8L386.8 405.0L385.5 407.2L382.9 407.4L379.6 406.7L378.6 409.3L377.0 411.0L376.7 413.9L373.5 414.2L371.2 415.4L370.0 417.6L369.2 420.1L369.7 423.1L367.7 424.8L366.4 426.9L365.9 429.5L367.0 432.4L367.8 435.2L366.7 437.8L365.2 440.3L365.3 442.3L367.8 443.9" stroke="#6d86a6" stroke-width="0.7" opacity="0.75"/>
<path d="M404.9 266.0L406.3 266.9L409.4 266.8L412.0 267.9L413.4 270.8L414.7 273.5L415.9 275.3L418.6 276.0L420.8 277.1L421.3 279.9L421.2 282.6L422.9 283.9L425.5 285.6L425.6 288.3L424.9 290.9L423.2 293.4L424.4 296.0L425.3 298.2L425.0 300.5L424.5 302.8L422.3 304.9L423.1 307.3L424.0 309.7L423.0 312.1L421.4 314.4L421.8 316.9L421.4 319.4L424.2 321.9L423.5 324.1L423.2 326.6L423.8 329.1L425.6 331.0L427.6 332.9L426.6 335.6L425.7 337.8L426.0 339.9L425.7 342.1L426.4 344.6L426.0 346.8L424.5 349.3L424.7 351.5L428.0 352.8L428.9 354.9L427.8 357.9L427.9 360.6L429.8 362.5L432.5 364.0L433.2 366.4L433.0 368.9L432.5 371.5L434.8 373.3L436.7 375.2L437.0 377.7L434.9 380.7L435.9 382.6L437.3 384.2L439.1 385.6L437.9 388.8L436.2 390.7L436.2 392.5L436.3 394.9L437.0 397.5L435.4 399.6L433.3 401.5L431.2 403.2L430.8 405.6L429.3 407.6L427.1 409.1L424.0 408.6L421.8 409.8L420.2 411.5L418.1 413.6L415.2 413.6L413.1 416.0L413.1 418.3L412.8 420.6L411.7 422.6L410.1 424.4L407.6 426.0L408.4 428.8L408.7 431.4L409.1 434.2L406.8 437.1L407.8 439.8L408.0 442.2L409.3 443.8" stroke="#5b7a9e" stroke-width="0.8" opacity="0.9"/>
<path d="M405.7 264.9L406.2 267.1L409.6 266.5L411.9 268.0L413.0 271.2L414.4 273.7L416.7 274.5L418.9 275.7L421.1 277.0L422.2 279.1L421.4 282.5L423.0 283.9L424.1 286.0L426.1 288.2L425.2 290.9L423.1 293.4L423.6 296.0L425.6 298.2L425.9 300.6L424.3 302.8L422.5 304.9L422.5 307.2L424.5 309.7L424.5 312.3L421.0 314.3L421.1 316.8L423.1 319.5L423.0 322.0L423.7 324.0L422.6 326.8L423.6 329.2L424.8 331.3L427.5 332.9L428.0 335.4L425.7 337.8L425.1 339.8L426.3 342.2L426.9 344.7L424.3 346.6L424.6 349.3L425.5 351.3L427.8 352.9L428.3 355.1L427.3 358.1L428.2 360.4L430.6 362.1L432.1 364.2L433.1 366.5L433.1 368.8L432.2 371.6L433.5 373.7L436.3 375.4L437.3 377.6L435.6 380.5L436.2 382.5L437.6 384.2L439.4 385.6L438.9 388.7L436.6 390.8L435.7 392.3L435.5 394.6L437.3 397.6L434.4 399.2L432.7 401.3L431.6 403.4L430.8 405.6L429.9 408.3L426.9 408.8L423.8 408.1L421.7 409.5L420.6 412.4L418.4 414.1L415.2 413.7L412.4 415.4L412.5 418.0L412.0 420.2L411.6 422.5L408.9 423.9L407.3 425.9L407.3 428.5L409.9 431.5L408.4 434.2L407.0 437.1L406.3 439.9L407.8 442.2L410.1 443.7" stroke="#6d86a6" stroke-width="0.7" opacity="0.75"/>
<path d="M377.2 318.8L378.8 320.4L380.5 318.3L382.6 317.4L385.1 317.0L388.0 318.7L390.4 317.7L392.7 316.4L394.6 315.5L397.2 315.6L399.8 315.8L401.5 313.9L403.3 312.7L404.5 310.7L407.1 311.1L409.5 310.3L411.1 308.4L411.5 305.6L412.5 303.5L414.6 302.3L417.6 301.6L418.5 299.1L418.5 296.2L419.7 294.1L421.7 292.7L424.7 292.3L426.4 290.7L427.4 287.7L429.8 287.6L432.4 287.0L434.5 285.9L436.3 284.5L438.1 282.3L440.8 281.9L444.5 282.8L446.4 283.2L448.6 281.8L450.9 282.1L453.2 282.8L455.7 283.9L458.2 284.2L460.8 283.7L463.2 282.3L465.8 284.0L468.6 284.3L471.4 283.7L473.8 281.3L476.2 281.3L478.3 282.4L479.9 283.7" stroke="#5b7a9e" stroke-width="0.8" opacity="0.9"/>
<path d="M377.2 319.3L378.7 319.8L380.4 317.7L382.5 316.6L385.1 316.6L388.0 318.9L390.5 318.4L392.5 315.5L394.4 314.7L397.3 316.1L399.8 316.0L401.4 313.7L402.6 311.3L404.4 310.4L407.6 311.8L409.8 310.6L410.4 307.7L411.9 306.0L413.0 303.9L416.2 303.6L418.1 302.0L418.1 298.9L418.3 296.1L419.6 294.0L422.2 293.2L425.1 292.8L426.3 290.5L427.8 288.5L429.3 286.8L431.9 286.3L434.6 286.1L435.7 283.5L438.0 282.1L440.9 282.1L444.6 284.3L446.4 284.3L448.6 281.6L451.0 281.1L453.4 281.6L455.6 285.1L458.2 284.4L460.8 282.1L463.1 281.6L465.8 283.9L468.6 284.6L471.4 284.3L473.9 282.2L476.2 281.0L478.4 283.9L479.9 283.8" stroke="#6d86a6" stroke-width="0.7" opacity="0.75"/>
<path d="M433.6 264.7L434.1 266.8L436.6 266.9L439.7 266.9L441.3 269.7L442.9 272.1L444.9 273.7L447.6 273.8L450.1 275.4L451.0 278.1L451.4 280.4L451.4 282.7L452.4 284.4L453.1 287.0L450.2 288.7L448.6 290.9L447.5 293.2L449.5 296.1L449.7 298.2L449.0 300.6L449.1 303.1L451.4 304.9L452.5 307.0L452.8 309.5L453.1 312.1L454.2 314.6L456.8 316.1L459.4 317.4L460.6 319.4L460.3 322.1L460.9 325.2L462.0 327.3L463.3 330.3L462.6 332.7L459.6 334.6L458.5 337.2L459.2 340.3L459.4 342.8L458.5 345.0L456.8 347.1L457.3 349.3L459.7 350.9L460.6 352.7L461.8 354.5L461.9 357.6L464.8 358.7L466.5 359.9L469.0 360.5L469.9 363.1L470.5 366.0L473.1 366.5L475.3 367.4L476.3 369.9L475.1 372.8L475.3 375.0L476.3 377.1L478.4 378.6L478.1 381.0L478.5 383.4L480.4 384.7L482.9 385.5L484.7 386.8L486.3 388.4L485.9 391.8L487.9 393.1L489.7 394.7L491.1 396.7L489.6 399.4L489.3 401.8L490.0 404.2L490.3 406.6L490.4 408.9L488.2 410.6L485.3 411.1L483.1 412.4L482.1 415.6L480.5 417.3L477.6 418.0L475.7 419.7L475.1 422.3L475.7 425.3L475.1 427.7L473.9 429.9L472.7 432.7L473.1 435.6L475.1 438.3L475.3 440.7L473.7 442.4" stroke="#5b7a9e" stroke-width="0.8" opacity="0.9"/>
<path d="M432.7 266.0L433.9 267.1L436.9 266.5L439.5 267.3L441.1 270.0L442.8 272.4L444.4 274.4L447.3 274.0L450.1 275.5L451.3 277.8L451.0 280.6L452.5 282.4L454.0 284.5L453.3 287.1L450.9 289.0L448.6 290.8L448.0 293.4L449.4 296.1L450.0 298.2L448.4 300.7L448.3 303.3L449.2 305.7L452.8 306.9L453.8 309.1L453.2 312.1L453.8 314.9L457.3 315.7L459.5 317.3L460.7 319.4L460.3 322.1L461.0 325.1L461.6 327.4L463.5 330.3L461.4 332.4L458.9 334.3L458.0 336.9L459.1 340.3L459.2 342.7L458.0 344.9L456.9 347.1L457.4 349.3L459.8 350.8L461.1 352.4L460.8 355.2L462.0 357.6L464.2 359.3L467.1 359.3L469.0 360.5L469.1 364.0L470.4 366.1L472.1 367.5L475.3 367.5L476.1 369.9L474.9 372.8L475.4 375.0L476.8 377.0L478.0 378.7L479.1 380.4L478.5 383.4L479.8 385.2L482.6 385.8L485.1 386.4L485.3 389.3L486.2 391.6L487.1 393.7L490.0 394.6L491.5 396.6L490.7 399.2L488.5 401.9L488.5 404.2L491.4 406.7L490.9 409.0L488.9 411.1L485.0 410.8L483.5 413.0L482.4 416.1L480.5 417.4L477.6 417.9L476.0 419.9L476.0 422.8L476.8 425.7L476.1 428.0L472.4 429.7L472.6 432.7L474.5 435.6L475.9 438.3L475.5 440.7L473.6 442.4" stroke="#6d86a6" stroke-width="0.7" opacity="0.75"/>
<path d="M459.8 265.0L461.1 266.1L463.5 266.9L466.5 267.8L467.6 270.8L469.7 272.7L470.8 275.1L474.3 275.0L476.5 276.1L477.4 278.7L478.5 280.7L478.5 283.0L479.8 284.4L481.0 286.4L480.6 288.8L478.2 290.8L478.9 293.5L478.4 296.0L478.7 298.2L477.6 300.5L476.4 303.0L476.9 305.6L477.9 308.1L478.2 310.4L477.2 312.2L476.4 313.6" stroke="#5b7a9e" stroke-width="0.8" opacity="0.9"/>
<path d="M460.2 264.7L460.7 266.5L464.1 266.2L466.7 267.5L468.1 270.2L469.2 273.2L470.5 275.3L474.2 275.1L476.4 276.3L476.7 279.7L477.8 281.4L478.1 283.3L481.1 284.1L481.5 286.4L478.3 288.4L477.8 290.7L477.6 293.2L479.2 296.1L479.1 298.2L477.1 300.5L476.8 303.0L477.0 305.6L478.7 308.2L478.6 310.4L475.5 312.1L475.7 313.5" stroke="#6d86a6" stroke-width="0.7" opacity="0.75"/>
<path d="M462.5 307.9L463.9 308.8L466.7 309.1L469.2 310.2L471.2 312.3L472.0 315.5L473.6 317.0L476.7 317.8L478.5 319.4L478.6 322.3L478.9 324.8L480.1 326.5L481.0 328.7L481.3 331.2L480.4 333.7L479.7 336.1L479.3 338.3L481.0 341.3L481.0 344.0L480.2 346.5L479.0 349.3L479.3 351.5L482.5 352.8L482.8 355.1L482.7 357.7L482.7 360.3L485.8 361.0L487.8 362.4L488.4 364.9L488.9 367.7L490.9 369.0L493.5 369.5L496.0 369.9L497.8 371.1L498.0 374.7L499.7 375.9L503.2 375.2L504.8 377.3L505.7 379.9L505.9 382.9L507.2 384.8L509.9 385.4L511.8 388.4L509.7 391.2" stroke="#5b7a9e" stroke-width="0.8" opacity="0.9"/>
<path d="M463.4 306.9L463.8 309.0L467.0 308.7L469.7 309.7L470.5 313.1L471.4 316.1L473.4 317.2L476.8 317.8L478.9 319.1L478.7 322.2L479.1 324.8L479.2 326.7L481.6 328.7L482.4 331.2L480.4 333.7L479.2 336.1L478.7 338.3L480.6 341.2L480.2 343.9L480.0 346.5L478.1 349.3L480.7 351.1L482.4 352.8L482.4 355.3L482.3 357.9L483.0 360.2L485.6 361.2L487.3 362.8L489.2 364.1L489.8 366.8L491.2 368.7L493.1 369.9L495.9 370.1L497.5 371.5L498.4 374.1L500.1 375.4L502.7 375.7L505.1 377.0L505.4 380.1L505.2 383.4L506.8 385.0L510.6 385.0L511.7 388.4L510.3 391.0" stroke="#6d86a6" stroke-width="0.7" opacity="0.75"/>
<path d="M441.5 303.4L442.4 304.5L444.9 305.1L446.5 306.8L446.8 309.6L447.8 312.1L448.8 314.5L452.3 314.7L454.3 316.4L454.9 319.5L456.2 322.0L457.8 323.8L460.6 324.1L462.0 324.9" stroke="#5b7a9e" stroke-width="0.8" opacity="0.9"/>
<path d="M356.3 396.7L356.8 394.8L356.9 391.6L358.5 388.9L360.2 386.3L363.2 385.2L363.6 382.4L365.0 380.2L364.9 377.1L367.5 376.1L370.1 375.3L372.4 374.6L374.5 373.1L377.1 371.7L379.2 371.8L381.7 372.9L383.9 372.7L386.0 369.6L388.4 369.6L390.8 370.3L393.3 370.5L395.7 369.9L398.0 368.4L400.0 366.9L402.7 368.4L404.9 367.9L406.2 364.7L406.1 361.5L408.8 359.7L409.6 357.2L412.5 355.1L413.1 352.0L414.2 349.3L417.8 350.3L420.5 351.5L423.3 352.2L425.8 352.4L428.2 353.4L429.7 356.5L431.3 358.1L434.0 357.5L436.6 357.6L439.1 358.0L440.8 360.6L442.4 362.0L444.4 363.2L447.5 363.3L449.4 365.1L449.4 368.1L450.6 370.2L452.7 372.0L455.2 373.6L456.0 376.1L457.1 378.7L459.5 380.0L462.9 378.9L465.3 379.1L467.7 380.6L469.9 382.7L472.8 382.4L475.7 381.3L478.1 380.5L479.8 381.2" stroke="#5b7a9e" stroke-width="0.8" opacity="0.9"/>
<path d="M355.7 396.4L356.9 394.8L357.9 392.2L357.7 388.4L359.6 385.9L362.9 385.0L364.5 382.9L365.0 380.2L365.2 377.3L367.8 376.4L370.5 375.8L372.5 374.8L374.1 371.9L376.7 370.6L379.1 371.4L381.7 373.1L383.9 372.6L385.9 369.2L388.3 369.4L390.9 370.6L393.5 371.5L395.7 370.1L397.8 367.3L400.0 366.8L402.8 368.6L404.9 367.9L405.7 364.2L406.4 361.7L407.7 359.3L411.2 358.0L412.3 355.0L412.6 351.7L414.3 349.3L417.8 350.6L420.4 352.2L423.4 352.0L426.0 352.1L428.1 353.5L430.0 355.9L431.2 358.5L433.9 358.0L436.7 357.2L439.3 357.5L441.1 359.6L442.5 361.9L444.9 362.5L447.7 363.1L449.7 364.8L450.1 367.6L450.3 370.4L453.6 371.3L455.6 373.2L456.4 375.8L457.3 378.4L459.6 379.9L462.5 379.7L465.3 379.3L467.7 380.8L469.9 382.6L472.8 382.7L475.7 381.8L478.1 380.6L479.8 381.7" stroke="#6d86a6" stroke-width="0.7" opacity="0.75"/>
<path d="M377.2 356.1L378.2 357.8L380.8 357.3L383.5 357.4L385.9 359.0L388.0 361.5L390.4 362.5L393.1 362.3L395.5 362.9L397.7 364.0L399.2 366.7L401.8 366.8L404.6 365.6L406.8 365.7L408.7 367.5L411.0 368.1L413.2 367.6L415.5 366.6L417.8 365.5L420.1 367.0L422.6 367.6L424.9 366.8L427.0 364.2L429.3 364.1L431.8 365.2L433.9 365.5L436.7 363.6L438.9 361.0L441.0 360.0L443.4 361.5" stroke="#5b7a9e" stroke-width="0.8" opacity="0.9"/>
<path d="M377.2 356.0L378.1 358.1L380.9 357.1L383.7 356.9L385.8 359.4L387.9 361.8L390.3 362.7L392.8 362.9L396.0 361.9L397.7 364.1L399.4 366.4L401.6 367.3L404.5 366.1L406.8 365.2L408.7 368.7L411.0 369.1L413.2 367.0L415.4 366.0L417.8 365.8L420.1 366.4L422.6 367.5L425.0 366.9L427.0 364.3L429.2 363.3L431.7 364.8L433.8 364.8L436.5 362.8L438.8 360.7L441.0 360.1L443.3 361.2" stroke="#6d86a6" stroke-width="0.7" opacity="0.75"/>
<path d="M392.3 345.5L394.1 345.3L395.5 343.0L397.2 340.6L399.9 339.7L402.7 339.5L404.4 338.5L407.3 336.8L408.6 335.2" stroke="#5b7a9e" stroke-width="0.8" opacity="0.9"/>
<path d="M422.3 324.1L423.5 325.6L426.0 325.8L429.5 325.1L431.9 327.1L433.8 330.1L436.6 330.8L439.1 331.0L441.1 330.9" stroke="#5b7a9e" stroke-width="0.8" opacity="0.9"/>
<path d="M453.5 322.8L454.7 323.9L457.1 324.6L460.2 325.0L462.3 327.2L464.0 329.7L465.4 331.8L467.6 331.4" stroke="#5b7a9e" stroke-width="0.8" opacity="0.9"/>
<path d="M484.0 357.5L486.2 357.7L488.2 355.3L490.7 353.1L493.7 352.7L496.3 353.5L498.5 352.6L500.3 350.7L502.5 349.8L504.9 350.4L506.8 352.9L508.8 353.7L512.0 352.9L514.1 354.4L515.9 356.6L517.5 358.7L520.0 359.0L522.6 359.4L525.3 359.7L526.9 362.0L529.0 363.6L531.5 363.1L533.9 362.5L536.0 363.3L538.2 365.0L540.6 365.3L543.1 363.9L545.5 362.7L547.7 363.8L550.0 363.1L552.9 364.1L555.1 362.5L556.9 359.6L559.6 360.2L562.2 361.1L563.7 359.9L564.3 357.5" stroke="#5b7a9e" stroke-width="0.8" opacity="0.9"/>
<path d="M484.5 358.9L486.2 357.8L488.0 354.9L490.8 353.5L493.8 352.9L496.5 354.1L498.4 352.5L500.3 350.7L502.5 349.6L504.9 352.2L506.7 353.0L508.6 354.0L511.9 353.1L514.6 353.6L515.6 357.2L517.5 358.6L519.9 359.2L523.2 358.4L525.1 359.9L527.0 361.8L528.7 364.5L531.3 363.7L533.8 363.0L536.1 363.1L538.1 365.8L540.6 365.7L543.1 364.4L545.5 363.0L547.5 362.6L550.2 363.9L552.9 364.1L554.9 361.6L556.9 359.6L559.9 361.1L561.9 360.3L563.5 359.4L564.8 358.9" stroke="#6d86a6" stroke-width="0.7" opacity="0.75"/>
<path d="M421.2 379.5L422.6 380.3L425.4 379.9L427.9 380.9L430.1 382.6L432.0 384.2L433.0 385.9" stroke="#5b7a9e" stroke-width="0.8" opacity="0.9"/>
<path d="M471.0 377.1L472.8 376.0L474.0 372.5L476.2 370.3L478.7 369.9" stroke="#5b7a9e" stroke-width="0.8" opacity="0.9"/>
<path d="M528.6 346.9L530.0 347.0L531.6 346.2L533.6 345.0L535.8 344.6L538.5 346.8L541.0 345.9L543.4 344.2L545.8 343.4L548.2 343.5L550.8 345.0L553.2 343.9L555.8 342.9L558.2 341.2L561.0 342.1L563.5 342.8L565.6 341.7L567.1 339.9L568.5 339.9" stroke="#5b7a9e" stroke-width="0.8" opacity="0.9"/>
<path d="M528.2 345.8L526.4 346.3L524.8 348.9L522.8 351.3L520.3 352.5L517.5 352.8L516.1 354.8L515.6 357.4L514.6 359.6L512.2 360.9L510.8 362.8L511.1 365.6L511.1 368.0L510.7 370.3L508.0 372.1L507.5 374.4L507.4 376.9L508.9 379.5L509.3 381.9L508.4 384.1L506.3 385.5L505.8 387.4L504.9 390.0L502.7 391.2L499.4 390.0L497.0 391.2L495.6 393.8L494.6 396.7L492.5 398.0L490.7 399.2L489.2 401.1L490.8 403.9L491.3 406.3L489.5 408.5L487.6 410.4L488.2 412.9L489.1 415.4L488.8 417.7L488.4 419.9L486.7 422.1L488.5 424.4L490.8 426.0L491.7 428.0L492.4 430.4L492.7 433.4L494.7 434.6L497.4 435.5L498.8 437.8L499.6 440.9L501.4 442.5L503.3 443.4L505.6 443.1" stroke="#5b7a9e" stroke-width="0.8" opacity="0.9"/>
<path d="M528.5 346.3L526.3 346.1L525.2 349.7L523.0 351.8L519.9 352.0L517.6 352.9L516.2 354.9L515.4 357.3L515.2 360.0L514.2 362.1L510.9 362.9L509.7 364.9L510.5 367.8L511.3 370.5L507.9 372.1L506.8 374.3L509.2 377.0L509.7 379.5L509.4 381.9L507.4 384.0L506.0 385.4L506.3 387.8L505.1 390.3L502.3 390.3L499.3 389.7L497.1 391.3L495.1 393.1L494.9 397.1L493.2 398.6L490.1 399.0L489.1 401.1L489.2 403.6L491.6 406.4L489.5 408.5L488.8 410.6L487.8 412.8L488.3 415.3L489.4 417.8L487.6 419.9L486.9 422.1L487.5 424.6L490.6 426.1L491.6 428.1L492.1 430.6L491.9 434.0L495.0 434.4L497.0 435.9L499.1 437.5L500.0 440.4L501.3 442.6L503.1 443.6L505.4 443.2" stroke="#6d86a6" stroke-width="0.7" opacity="0.75"/>
<path d="M528.1 347.1L529.2 348.5L531.9 349.1L534.3 350.8L536.5 352.9L536.9 355.4L538.6 356.9L541.1 357.7L543.3 358.8L543.8 361.6L544.6 363.7L546.5 365.4L549.3 366.3L551.2 367.8L551.4 370.6L551.6 372.6L553.1 374.5L553.4 376.9L553.2 379.5L550.5 381.7L549.3 383.6L549.1 386.2L549.8 389.4L547.7 391.4L546.5 393.8L545.7 396.2L547.6 398.4L549.5 400.2L549.9 402.7L550.8 405.3L552.3 407.6L555.6 408.1L557.7 409.1L559.4 410.8L560.4 413.6L562.1 415.7L565.2 415.3L567.2 415.8L567.0 418.6" stroke="#5b7a9e" stroke-width="0.8" opacity="0.9"/>
<path d="M527.8 347.4L528.9 348.7L531.9 349.1L535.0 350.0L536.3 353.1L536.5 355.8L538.4 357.2L541.3 357.4L543.7 358.4L544.0 361.3L544.3 364.0L547.1 364.9L549.7 365.9L551.7 367.4L551.1 370.7L551.7 372.6L551.8 374.7L554.0 377.0L552.3 379.2L550.3 381.6L549.4 383.7L548.3 385.9L550.0 389.5L547.8 391.5L547.2 393.9L545.4 396.2L547.2 398.5L550.3 399.8L549.8 402.8L550.7 405.4L552.7 407.2L554.8 408.8L557.5 409.3L559.4 410.8L559.8 414.4L561.8 416.1L564.7 416.0L566.8 416.4L568.0 417.2" stroke="#6d86a6" stroke-width="0.7" opacity="0.75"/>
<path d="M508.7 369.9L509.7 371.6L512.9 372.1L515.3 373.9L517.5 375.6L518.6 378.3L521.0 378.8L523.6 379.3L526.3 380.8L526.4 383.4L527.0 385.6L528.6 387.3L530.8 388.6L532.3 390.5L532.5 393.0L532.5 395.3L534.2 397.5L536.3 399.5L536.8 402.0L536.4 404.6L534.8 407.1L534.9 408.9L535.9 411.9L533.9 413.6L530.9 414.6L530.8 417.1L530.0 419.2L532.5 421.2L532.2 423.2L531.7 425.6L531.7 428.3L534.2 429.8L536.9 431.0L538.4 432.5L539.0 435.5L540.7 437.9L544.5 437.8L546.9 439.1L547.9 442.0L549.1 443.9L550.9 444.0" stroke="#5b7a9e" stroke-width="0.8" opacity="0.9"/>
<path d="M508.8 369.9L509.6 371.8L512.0 373.2L515.8 373.4L517.8 375.3L518.2 379.0L520.6 379.7L523.6 379.4L526.0 381.0L527.0 382.9L526.4 386.1L528.2 387.5L531.2 388.4L532.4 390.5L531.9 393.4L532.1 395.5L533.7 397.7L536.1 399.5L536.3 402.1L535.2 404.8L534.7 407.1L535.5 409.1L535.2 411.5L534.4 413.9L530.8 414.5L529.4 416.5L530.0 419.2L532.5 421.2L531.8 423.3L531.0 425.9L532.3 428.0L535.0 429.2L537.2 430.8L538.1 432.7L538.5 436.0L540.9 437.6L544.1 438.2L546.8 439.2L548.2 441.5L549.1 444.0L550.1 445.2" stroke="#6d86a6" stroke-width="0.7" opacity="0.75"/>
<path d="M525.8 383.9L527.3 384.3L529.8 382.5L532.2 383.3L534.6 384.7L537.2 385.5L539.7 386.4L541.9 384.0L543.6 382.7L546.2 383.0L548.9 382.4L550.7 380.5L551.0 377.0L553.3 375.6L556.0 375.2L558.8 374.7L560.8 372.7L562.6 370.7L564.2 368.5L567.0 369.3L568.5 368.9" stroke="#5b7a9e" stroke-width="0.8" opacity="0.9"/>
<path d="M525.8 384.2L527.2 384.8L529.5 384.0L532.2 382.9L534.8 383.6L537.1 386.3L539.8 385.9L542.0 384.7L543.7 382.9L546.0 382.6L548.9 382.4L550.1 379.8L551.6 377.6L552.8 374.9L556.4 375.8L559.1 375.2L560.6 372.4L562.8 370.9L564.2 368.6L567.3 369.7L569.0 369.6" stroke="#6d86a6" stroke-width="0.7" opacity="0.75"/>
<path d="M494.3 394.2L496.1 394.1L497.6 391.4L499.4 389.1L502.2 389.4L505.5 388.6L507.3 386.2L508.4 384.4" stroke="#5b7a9e" stroke-width="0.8" opacity="0.9"/>
<path d="M373.1 404.3L374.6 405.2L376.5 404.8L378.5 402.6L381.0 402.7L383.8 404.4L386.3 403.6L388.6 401.7L390.8 401.7L393.3 402.6L395.5 404.3L397.6 404.9L400.2 403.3L402.2 403.3L404.2 403.5L407.0 405.2L408.8 402.6L410.8 400.9L412.9 399.4L415.9 399.3L418.5 398.6L419.4 395.9L420.9 393.9L422.5 392.2L425.7 392.3L427.7 391.2L429.0 389.6L429.5 387.3L432.9 386.4L435.8 386.6L437.5 386.4" stroke="#5b7a9e" stroke-width="0.8" opacity="0.9"/>
<path d="M373.1 404.5L374.6 405.1L376.2 402.7L378.4 402.0L381.2 404.1L383.8 405.0L386.3 404.2L388.6 402.6L390.8 401.5L393.3 403.7L395.5 404.1L397.7 404.7L400.1 403.8L402.2 403.3L404.3 404.7L406.9 405.0L409.5 404.4L410.7 400.7L412.8 399.2L415.9 399.3L418.5 398.5L419.3 395.7L420.9 393.9L422.4 392.1L425.7 392.3L428.0 391.6L429.1 389.7L429.0 386.7L432.6 385.7L435.8 386.7L437.3 386.0" stroke="#6d86a6" stroke-width="0.7" opacity="0.75"/>
<path d="M354.6 432.7L356.0 431.8L357.2 429.0L359.3 427.0L362.6 426.7L365.8 426.7L368.0 425.8L370.0 424.5L372.1 422.6L374.6 423.9L376.9 425.2L379.0 425.1L381.5 422.8L383.8 423.5L385.5 425.5L386.8 427.9L389.1 428.4L392.1 428.0L393.9 429.5L395.5 431.7L397.5 433.2L399.8 434.2L402.7 433.6L405.2 433.8L406.8 436.2L409.2 437.8L412.1 437.3L414.9 435.8L417.4 435.7L420.0 438.0L422.5 437.8L424.8 436.4L426.7 434.2L429.2 433.9L431.8 434.1L433.9 433.8L436.6 432.3L438.9 430.4L441.3 430.1L443.5 431.6" stroke="#5b7a9e" stroke-width="0.8" opacity="0.9"/>
<path d="M354.6 432.8L356.3 432.4L357.7 429.9L359.4 427.2L362.3 426.3L365.8 426.8L368.0 425.6L369.8 423.6L372.0 422.1L374.5 423.0L376.9 424.7L379.1 424.6L381.5 422.6L383.7 423.7L385.1 426.3L386.7 427.9L389.1 428.4L391.7 428.7L394.1 429.0L395.7 431.0L397.4 433.3L399.8 434.2L403.0 432.9L405.2 433.9L406.5 437.2L409.3 437.6L412.1 437.5L414.9 435.7L417.4 435.8L420.0 437.5L422.4 437.4L424.3 434.9L426.7 434.2L429.6 435.0L432.2 435.3L433.9 433.9L436.2 431.1L438.8 430.0L441.7 431.5L443.4 431.4" stroke="#6d86a6" stroke-width="0.7" opacity="0.75"/>
<path d="M439.1 393.0L439.9 394.4L442.4 395.6L445.0 397.2L445.0 400.4L444.5 403.5L444.9 405.4L447.3 407.2L447.2 409.6L447.3 412.0L445.0 414.3L445.4 416.6L447.2 419.0L447.1 421.4L446.6 423.7L443.9 425.6L444.4 428.0L445.5 430.3L445.4 432.9L444.1 435.8L443.9 438.5L445.1 440.8L446.1 442.3" stroke="#5b7a9e" stroke-width="0.8" opacity="0.9"/>
<path d="M440.0 392.4L439.6 394.5L442.2 395.7L444.9 397.3L445.6 400.2L444.1 403.6L444.9 405.4L447.9 407.2L447.9 409.6L446.3 412.0L445.5 414.3L444.7 416.5L446.9 418.9L447.6 421.4L446.2 423.6L443.6 425.5L443.4 427.8L445.9 430.3L446.0 432.9L443.8 435.8L443.1 438.6L445.0 440.8L446.4 442.3" stroke="#6d86a6" stroke-width="0.7" opacity="0.75"/>
<path d="M473.0 384.0L472.7 385.9L473.5 388.7L475.2 391.9L473.3 395.0L470.7 395.8L470.4 398.3L469.5 400.6L467.8 402.5L466.1 404.4L463.2 404.9L461.3 406.2L460.8 409.6L458.4 411.1L455.5 411.3L452.8 411.7L451.4 413.9L450.2 415.6L448.5 417.8L446.7 419.4L444.2 420.7L446.2 423.4L447.1 424.6L448.2 426.2L448.9 428.8L450.7 430.6L453.1 431.7L455.8 432.2L458.2 433.2L459.5 436.5L462.2 438.0L465.1 438.3L467.9 437.7L468.8 439.9" stroke="#5b7a9e" stroke-width="0.8" opacity="0.9"/>
<path d="M473.5 384.0L472.6 385.9L474.8 388.7L475.8 392.0L472.9 394.9L470.7 395.8L470.2 398.1L469.1 400.3L468.6 403.3L465.6 403.9L463.0 404.7L461.9 406.9L460.2 408.9L458.8 411.6L456.0 412.1L452.6 411.2L450.9 413.1L450.3 415.8L448.5 417.8L445.7 418.7L444.4 420.8L446.3 423.4L447.7 424.4L448.3 426.2L449.2 428.5L450.3 431.0L453.4 431.4L456.0 431.9L458.3 432.9L459.4 436.8L462.2 438.0L465.2 438.0L467.9 437.9L468.7 440.1" stroke="#6d86a6" stroke-width="0.7" opacity="0.75"/>
<path d="M356.1 266.1C359.6 267.2 371.6 270.9 377.2 272.9C382.8 274.9 386.2 275.1 389.4 278.3C392.6 281.5 393.7 288.5 396.2 291.9C398.7 295.3 401.4 296.9 404.3 298.7C407.2 300.5 412.3 302.1 413.9 302.8" stroke="#fb1a0a" stroke-width="1.6" transform="translate(1.0,-0.7)"/>
<path d="M413.9 302.8C413.2 303.5 409.1 304.8 409.8 306.8C410.5 308.8 415.6 312.5 417.9 315.0C420.2 317.5 422.5 320.7 423.4 321.8" stroke="#fb1a0a" stroke-width="1.6" transform="translate(1.0,-0.7)"/>
<path d="M358.2 281.0C361.4 283.1 372.4 289.2 377.2 293.3C381.9 297.4 384.7 301.7 386.7 305.5C388.7 309.3 388.8 313.4 389.4 316.3C389.9 319.2 388.6 320.7 390.0 323.0C391.4 325.3 394.5 327.9 397.6 330.2C400.7 332.5 404.7 335.5 408.4 336.9C412.1 338.3 415.8 337.1 420.0 338.5C424.2 339.9 429.1 343.2 433.6 345.1C438.1 347.0 443.1 348.9 447.2 349.9C451.3 350.9 454.6 351.5 458.0 351.2C461.4 350.9 464.4 349.1 467.6 347.8C470.8 346.6 475.4 344.4 477.0 343.7" stroke="#fb1a0a" stroke-width="1.6" transform="translate(1.0,-0.7)"/>
<path d="M354.0 298.0C356.7 300.6 366.6 308.9 370.4 313.6C374.2 318.3 376.0 321.9 377.0 326.0C378.0 330.1 376.5 333.0 376.5 338.0C376.5 343.0 374.8 351.6 377.2 356.0C379.6 360.4 387.6 360.9 390.8 364.1C394.0 367.3 395.1 371.4 396.2 375.0C397.3 378.6 397.6 383.1 397.6 386.0C397.6 388.9 397.6 389.6 396.2 392.2C394.8 394.8 392.6 398.5 389.4 401.7C386.2 404.9 380.8 407.3 377.2 411.2C373.6 415.1 369.5 419.4 367.7 424.8C365.9 430.2 366.5 440.6 366.3 443.8" stroke="#fb1a0a" stroke-width="1.6" transform="translate(1.0,-0.7)"/>
<path d="M405.7 265.0C407.3 266.3 412.2 269.8 415.2 272.9C418.1 276.0 421.8 279.8 423.4 283.7C425.0 287.6 424.7 291.7 424.7 296.0C424.7 300.3 423.8 305.3 423.4 309.6C423.0 313.9 421.9 317.7 422.5 322.0C423.1 326.3 426.3 331.1 426.8 335.6C427.3 340.1 424.5 344.0 425.4 349.2C426.3 354.4 430.1 360.7 432.2 366.8C434.2 372.9 437.0 381.2 437.7 385.9C438.4 390.6 437.4 391.6 436.3 394.9C435.2 398.2 433.6 403.0 430.9 405.7C428.2 408.4 422.8 409.4 420.0 411.2C417.2 413.0 415.8 413.7 413.9 416.6C412.0 419.5 409.3 424.3 408.4 428.8C407.5 433.3 408.4 441.3 408.4 443.8" stroke="#fb1a0a" stroke-width="1.6" transform="translate(1.0,-0.7)"/>
<path d="M433.6 264.7C435.9 266.3 444.0 271.2 447.2 274.2C450.4 277.1 452.4 278.8 452.6 282.4C452.8 286.0 448.5 291.5 448.5 296.0C448.5 300.5 450.6 305.3 452.6 309.6C454.7 313.9 459.2 318.4 460.8 321.8C462.4 325.2 462.6 326.8 462.1 330.2C461.6 333.6 458.6 338.9 458.0 342.4C457.4 345.9 457.6 348.5 458.7 351.2C459.8 353.9 462.2 355.9 464.8 358.7C467.4 361.5 472.3 364.8 474.3 368.2C476.3 371.6 475.6 376.1 477.0 379.0C478.4 381.9 480.4 383.2 482.5 385.9C484.6 388.5 488.2 391.1 489.3 394.9C490.4 398.7 490.9 404.9 489.3 408.5C487.7 412.1 482.3 413.4 479.8 416.6C477.3 419.8 475.2 423.2 474.3 427.5C473.4 431.8 474.3 439.9 474.3 442.4" stroke="#fb1a0a" stroke-width="1.6" transform="translate(1.0,-0.7)"/>
<path d="M460.8 264.0C462.6 265.7 468.4 271.1 471.6 274.2C474.8 277.3 478.7 278.8 479.8 282.4C480.9 286.0 478.9 290.8 478.4 296.0C477.9 301.2 477.2 310.7 477.0 313.6" stroke="#fb1a0a" stroke-width="1.6" transform="translate(1.0,-0.7)"/>
<path d="M477.0 313.6C476.0 313.2 472.8 312.4 471.0 311.5C469.2 310.6 467.0 308.8 466.2 308.2" stroke="#fb1a0a" stroke-width="1.6" transform="translate(1.0,-0.7)"/>
<path d="M463.5 306.8C465.3 308.4 471.6 313.4 474.3 316.3C477.0 319.2 478.8 320.8 479.8 324.5C480.8 328.2 480.5 334.2 480.5 338.3C480.5 342.4 479.0 345.4 479.8 349.2C480.6 353.0 482.9 358.0 485.2 361.4C487.5 364.8 490.6 367.1 493.4 369.6C496.2 372.1 499.6 373.6 502.2 376.3C504.8 379.0 507.5 383.6 509.0 386.0C510.5 388.4 510.7 390.0 511.0 390.8" stroke="#fb1a0a" stroke-width="1.6" transform="translate(1.0,-0.7)"/>
<path d="M355.4 396.2C356.3 394.6 358.8 390.0 360.9 386.7C362.9 383.4 365.0 378.7 367.7 376.3C370.4 373.9 373.3 373.3 377.2 372.3C381.1 371.3 386.3 371.1 390.8 370.2C395.3 369.3 401.1 368.9 404.3 366.8C407.5 364.7 408.0 360.0 409.8 357.3C411.6 354.6 412.9 351.4 415.2 350.5C417.5 349.6 420.9 351.0 423.4 351.9C425.9 352.8 426.7 354.5 430.0 356.0C433.3 357.5 439.6 358.4 443.1 360.7C446.7 363.0 448.8 366.8 451.3 369.6C453.8 372.4 455.3 375.8 458.0 377.7C460.7 379.6 464.0 380.4 467.6 381.1C471.2 381.8 477.8 381.7 479.8 381.8" stroke="#fb1a0a" stroke-width="1.6" transform="translate(1.0,-0.7)"/>
<path d="M377.2 356.0C379.5 356.9 386.3 359.6 390.8 361.4C395.3 363.2 399.8 365.9 404.3 366.8C408.8 367.7 413.0 367.2 417.9 366.8C422.8 366.4 429.4 365.1 433.6 364.1C437.8 363.1 441.5 361.3 443.1 360.7" stroke="#fb1a0a" stroke-width="1.6" transform="translate(1.0,-0.7)"/>
<path d="M530.0 338.3C529.8 339.7 528.8 345.1 528.6 346.5" stroke="#fb1a0a" stroke-width="1.6" transform="translate(1.0,-0.7)"/>
<path d="M528.6 346.5C531.9 346.1 541.6 345.3 548.3 344.4C555.0 343.5 565.3 341.6 568.7 341.0" stroke="#fb1a0a" stroke-width="1.6" transform="translate(1.0,-0.7)"/>
<path d="M528.6 346.5C527.1 347.4 522.4 349.4 519.8 351.9C517.2 354.4 514.8 358.0 513.0 361.4C511.2 364.8 509.8 368.2 508.9 372.3C508.0 376.4 509.1 382.8 507.6 385.9C506.1 389.0 502.6 389.1 500.0 391.0C497.4 392.9 493.8 394.7 492.0 397.6C490.2 400.5 490.0 404.4 489.3 408.5C488.6 412.6 487.3 417.9 488.0 422.0C488.7 426.1 490.6 429.3 493.4 432.9C496.2 436.5 503.0 442.0 504.9 443.8" stroke="#fb1a0a" stroke-width="1.6" transform="translate(1.0,-0.7)"/>
<path d="M528.6 346.5C529.9 347.6 533.3 350.6 536.1 353.3C538.9 356.0 542.9 359.6 545.6 362.8C548.3 366.0 551.5 369.1 552.4 372.3C553.3 375.5 551.9 377.8 551.0 381.8C550.1 385.8 546.3 391.8 547.0 396.2C547.7 400.6 551.7 404.9 555.1 408.5C558.5 412.1 565.4 416.4 567.4 418.0" stroke="#fb1a0a" stroke-width="1.6" transform="translate(1.0,-0.7)"/>
<path d="M509.0 369.6C510.3 370.7 514.3 374.3 517.0 376.3C519.7 378.3 522.6 378.7 525.3 381.8C528.0 384.9 531.6 390.7 533.4 394.9C535.2 399.1 536.5 403.0 536.1 407.1C535.7 411.2 530.7 415.2 530.7 419.3C530.7 423.4 532.7 427.5 536.1 431.6C539.5 435.7 548.6 441.8 551.1 443.8" stroke="#fb1a0a" stroke-width="1.6" transform="translate(1.0,-0.7)"/>
<path d="M373.1 404.4C376.1 404.2 385.6 403.0 390.8 403.0C396.0 403.0 399.8 405.3 404.3 404.4C408.8 403.5 413.6 400.3 417.9 397.6C422.2 394.9 426.8 390.1 430.0 388.0C433.2 385.9 435.8 385.5 437.0 385.0" stroke="#fb1a0a" stroke-width="1.6" transform="translate(1.0,-0.7)"/>
<path d="M474.3 384.0C474.1 385.8 475.0 391.0 473.0 394.9C471.0 398.8 466.0 403.7 462.1 407.1C458.2 410.5 452.6 412.6 449.9 415.3C447.2 418.0 444.9 420.5 445.8 423.4C446.7 426.3 451.5 430.2 455.3 432.9C459.1 435.6 466.6 438.6 468.9 439.7" stroke="#fb1a0a" stroke-width="1.6" transform="translate(1.0,-0.7)"/>
</g>
<text transform="translate(373.4,423) rotate(-90)" font-size="23.5" textLength="133" lengthAdjust="spacingAndGlyphs" stroke="#535d6e" stroke-width="1.5" paint-order="stroke" style="font-family:'Liberation Sans', 'DejaVu Sans', sans-serif;font-weight:normal;font-style:italic;fill:#8f9aac">Heat Transfer</text>
</g>
<rect x="482.3" y="265.8" width="87.6" height="71.6" fill="#e9e6e6"/>
<filter id="bl2" x="-10%" y="-10%" width="120%" height="120%"><feGaussianBlur stdDeviation="0.7"/></filter>
<g fill="none" stroke-linecap="round" stroke-linejoin="round">
<g filter="url(#bl2)">
<path d="M486.3 270.3C487.9 270.9 493.7 271.4 496.2 273.6C498.7 275.8 499.5 280.2 501.2 283.5C502.9 286.8 503.6 290.9 506.1 293.5C508.6 296.1 514.4 298.3 516.1 299.3" stroke="#ffdd66" stroke-width="9.4"/>
<path d="M560.8 271.1C559.1 272.6 554.7 278.4 550.8 280.2C546.9 282.0 541.2 280.8 537.6 281.9C534.0 283.0 530.9 284.9 529.3 286.8C527.6 288.7 528.0 292.4 527.7 293.5" stroke="#ffdd66" stroke-width="9.4"/>
<path d="M535.9 297.6C537.3 298.6 542.0 300.8 544.2 303.4C546.4 306.0 548.1 310.0 549.2 313.3C550.3 316.6 548.9 320.5 550.8 323.3C552.7 326.1 559.1 328.8 560.8 329.9" stroke="#ffdd66" stroke-width="9.4"/>
<path d="M526.0 310.0C525.2 311.1 523.5 315.1 521.0 316.6C518.5 318.1 514.7 318.4 511.1 319.1C507.5 319.8 503.1 319.2 499.5 320.8C495.9 322.4 491.2 327.6 489.6 329.0" stroke="#ffdd66" stroke-width="9.4"/>
<path d="M486.3 270.3C487.9 270.9 493.7 271.4 496.2 273.6C498.7 275.8 499.5 280.2 501.2 283.5C502.9 286.8 503.6 290.9 506.1 293.5C508.6 296.1 514.4 298.3 516.1 299.3" stroke="#f7921e" stroke-width="6.2"/>
<path d="M560.8 271.1C559.1 272.6 554.7 278.4 550.8 280.2C546.9 282.0 541.2 280.8 537.6 281.9C534.0 283.0 530.9 284.9 529.3 286.8C527.6 288.7 528.0 292.4 527.7 293.5" stroke="#f7921e" stroke-width="6.2"/>
<path d="M535.9 297.6C537.3 298.6 542.0 300.8 544.2 303.4C546.4 306.0 548.1 310.0 549.2 313.3C550.3 316.6 548.9 320.5 550.8 323.3C552.7 326.1 559.1 328.8 560.8 329.9" stroke="#f7921e" stroke-width="6.2"/>
<path d="M526.0 310.0C525.2 311.1 523.5 315.1 521.0 316.6C518.5 318.1 514.7 318.4 511.1 319.1C507.5 319.8 503.1 319.2 499.5 320.8C495.9 322.4 491.2 327.6 489.6 329.0" stroke="#f7921e" stroke-width="6.2"/>
</g>
<g filter="url(#bl)">
<path d="M486.1 271.0L487.8 272.4L491.3 269.8L494.5 270.1L496.2 273.6L496.6 275.9L497.2 277.8L500.0 279.0L502.4 280.6L502.5 282.9L500.7 286.2L501.6 288.2L506.0 288.9L506.9 290.7L505.0 294.3L506.9 296.3L509.2 298.1L512.8 297.1L515.4 297.0L516.4 298.7" stroke="#4f78ad" stroke-width="0.6"/>
<path d="M486.3 270.4L487.9 272.1L490.9 271.5L494.3 270.8L496.8 272.6L496.0 276.5L496.6 278.1L498.9 279.4L502.5 280.6L500.9 283.6L500.4 286.3L501.7 288.1L503.9 289.7L505.4 291.5L505.1 294.3L507.1 296.1L509.9 296.9L513.2 296.5L515.2 297.4L516.1 299.2" stroke="#6d86a6" stroke-width="0.5" opacity="0.8"/>
<path d="M559.9 270.2L557.8 270.2L558.8 274.2L558.2 277.0L556.2 278.8L551.2 277.1L550.5 279.7L549.3 282.8L546.8 283.3L544.2 283.4L541.7 279.9L539.5 280.6L537.8 282.7L535.9 285.2L531.9 282.5L530.0 284.2L528.0 285.4L530.5 290.2L530.8 292.1L528.0 293.5" stroke="#4f78ad" stroke-width="0.6"/>
<path d="M559.6 269.9L558.9 271.4L558.4 273.8L558.0 276.9L555.1 277.7L552.2 278.4L549.6 278.2L549.0 281.8L546.6 282.5L544.1 280.9L541.7 279.1L539.5 280.0L537.7 282.2L535.8 285.1L532.1 282.8L529.9 284.1L529.5 287.0L528.7 289.4L529.0 291.8L527.0 293.4" stroke="#6d86a6" stroke-width="0.5" opacity="0.8"/>
<path d="M535.6 298.1L536.9 299.5L539.2 300.8L543.5 299.6L544.8 302.7L543.4 306.6L545.1 308.0L549.5 308.2L550.9 310.2L548.7 313.5L547.7 316.2L548.8 318.5L549.8 321.0L553.2 322.3L552.7 324.7L553.5 328.2L557.0 328.1L560.3 327.2L562.2 327.4" stroke="#4f78ad" stroke-width="0.6"/>
<path d="M534.7 299.5L536.6 299.9L539.4 300.5L543.1 300.2L543.7 303.9L544.0 306.2L545.2 307.9L549.2 308.4L549.5 310.8L550.0 313.0L548.4 316.1L547.6 318.5L551.4 320.9L552.3 322.7L552.0 325.4L553.5 328.2L556.7 328.6L559.7 328.3L561.7 328.4" stroke="#6d86a6" stroke-width="0.5" opacity="0.8"/>
<path d="M525.1 309.5L523.7 311.2L524.4 315.2L523.0 318.7L519.1 318.0L516.1 316.5L513.7 318.2L511.2 319.9L509.1 321.4L506.5 318.8L504.0 317.7L501.7 319.7L500.0 322.2L498.4 324.1L496.0 325.3L491.0 324.0L490.2 327.1L490.7 330.2" stroke="#4f78ad" stroke-width="0.6"/>
<path d="M524.3 309.0L523.5 311.0L524.2 315.1L522.6 318.3L518.8 317.4L516.0 316.4L513.4 316.4L511.2 319.6L509.1 321.5L506.5 320.3L504.0 318.6L501.7 320.1L500.0 322.4L497.7 322.9L494.5 323.4L491.7 324.8L489.8 326.6L490.7 330.2" stroke="#6d86a6" stroke-width="0.5" opacity="0.8"/>
<ellipse cx="525.5" cy="299.3" rx="5.5" ry="4.6" fill="#e6e8ee" stroke="none"/>
<path d="M517 296l6-4 7 1 5 6-3 7-8 2-6-5zM519 301l9-8 6 10-12 3zM523 292l3 14M518 298l14 2M529 289l2 8 6-1M516 302l6 6 4 4M514 297l5 3M531 293l6 3M521 306l-3 4" stroke="#4b7cc0" stroke-width="0.6"/>
</g>
</g>
<path d="M516.9 277.7L519.4 294.3" stroke="#f02a30" stroke-width="0.9"/><circle cx="516.9" cy="277.7" r="1" fill="#f02030"/>
<path d="M522.7 317.5L531 327.4" stroke="#f02a30" stroke-width="0.9"/><circle cx="531" cy="327.4" r="1" fill="#f02030"/>
<text class="sans" x="505.3" y="274.5" font-size="7.6" textLength="33" lengthAdjust="spacingAndGlyphs" style="font-family:'Liberation Sans', 'DejaVu Sans', sans-serif">MWCNTs</text>
<text x="555" y="298.4" font-size="9.5">PS</text>
<text class="sans" x="531.8" y="334.9" font-size="7" style="font-family:'Liberation Sans', 'DejaVu Sans', sans-serif">BN</text>
<rect x="352.2" y="264.4" width="218" height="182" fill="none" stroke="#2aa6ea" stroke-width="1.5"/>
<path d="M361.4 251.0l5.3 4.1h-2.4v3.6h-5.8v-3.6h-2.4z" fill="#2e83d2"/>
<path d="M378.9 251.0l5.3 4.1h-2.4v3.6h-5.8v-3.6h-2.4z" fill="#2e83d2"/>
<path d="M396.5 251.0l5.3 4.1h-2.4v3.6h-5.8v-3.6h-2.4z" fill="#2e83d2"/>
<path d="M413.5 251.0l5.3 4.1h-2.4v3.6h-5.8v-3.6h-2.4z" fill="#2e83d2"/>
<path d="M431.1 250.2l5.3 4.1h-2.4v3.6h-5.8v-3.6h-2.4z" fill="#2e83d2"/>
<path d="M448.2 251.0l5.3 4.1h-2.4v3.6h-5.8v-3.6h-2.4z" fill="#2e83d2"/>
<path d="M462.3 251.0l5.3 4.1h-2.4v3.6h-5.8v-3.6h-2.4z" fill="#2e83d2"/>
<path d="M480.6 251.0l5.3 4.1h-2.4v3.6h-5.8v-3.6h-2.4z" fill="#2e83d2"/>
<path d="M498.5 250.4l5.3 4.1h-2.4v3.6h-5.8v-3.6h-2.4z" fill="#2e83d2"/>
<path d="M515.3 251.0l5.3 4.1h-2.4v3.6h-5.8v-3.6h-2.4z" fill="#2e83d2"/>
<path d="M533.2 250.2l5.3 4.1h-2.4v3.6h-5.8v-3.6h-2.4z" fill="#2e83d2"/>
<path d="M549.7 251.0l5.3 4.1h-2.4v3.6h-5.8v-3.6h-2.4z" fill="#2e83d2"/>
<path d="M562.5 251.0l5.3 4.1h-2.4v3.6h-5.8v-3.6h-2.4z" fill="#2e83d2"/>
<path d="M362.6 449.2l5.3 4.1h-2.4v3.6h-5.8v-3.6h-2.4z" fill="#e60f5c"/>
<path d="M379.7 449.2l5.3 4.1h-2.4v3.6h-5.8v-3.6h-2.4z" fill="#e60f5c"/>
<path d="M396.8 449.2l5.3 4.1h-2.4v3.6h-5.8v-3.6h-2.4z" fill="#e60f5c"/>
<path d="M414.7 449.2l5.3 4.1h-2.4v3.6h-5.8v-3.6h-2.4z" fill="#e60f5c"/>
<path d="M431.5 448.4l5.3 4.1h-2.4v3.6h-5.8v-3.6h-2.4z" fill="#e60f5c"/>
<path d="M448.2 449.2l5.3 4.1h-2.4v3.6h-5.8v-3.6h-2.4z" fill="#e60f5c"/>
<path d="M463.1 449.2l5.3 4.1h-2.4v3.6h-5.8v-3.6h-2.4z" fill="#e60f5c"/>
<path d="M481.4 449.2l5.3 4.1h-2.4v3.6h-5.8v-3.6h-2.4z" fill="#e60f5c"/>
<path d="M499.3 448.6l5.3 4.1h-2.4v3.6h-5.8v-3.6h-2.4z" fill="#e60f5c"/>
<path d="M516.0 449.2l5.3 4.1h-2.4v3.6h-5.8v-3.6h-2.4z" fill="#e60f5c"/>
<path d="M533.9 448.4l5.3 4.1h-2.4v3.6h-5.8v-3.6h-2.4z" fill="#e60f5c"/>
<path d="M550.7 449.2l5.3 4.1h-2.4v3.6h-5.8v-3.6h-2.4z" fill="#e60f5c"/>
<path d="M564.4 449.2l5.3 4.1h-2.4v3.6h-5.8v-3.6h-2.4z" fill="#e60f5c"/>
</g>
</svg></body></html>
